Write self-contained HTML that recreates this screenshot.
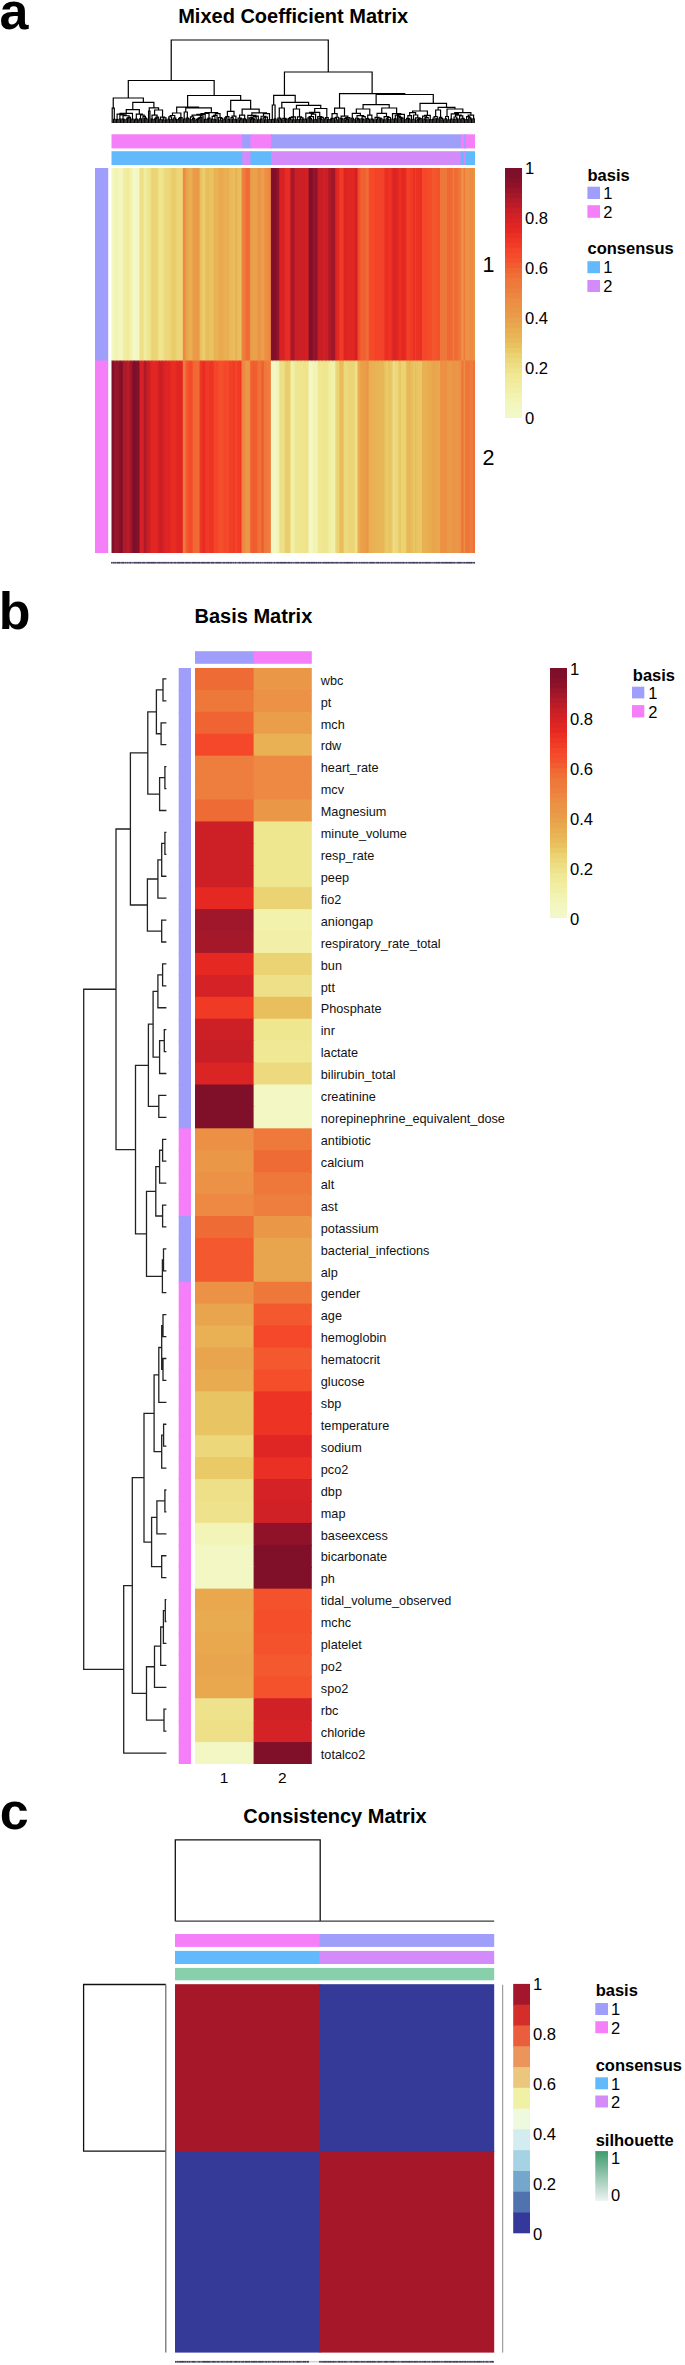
<!DOCTYPE html>
<html><head><meta charset="utf-8"><title>NMF figure</title>
<style>
html,body{margin:0;padding:0;background:#fff;}
body{width:685px;height:2365px;overflow:hidden;}
svg{display:block;font-family:"Liberation Sans", sans-serif;}
</style></head>
<body>
<svg width="685" height="2365" viewBox="0 0 685 2365">
<rect x="0" y="0" width="685" height="2365" fill="#ffffff"/>
<text x="-0.50" y="28.80" font-size="52" font-weight="bold" text-anchor="start" fill="#000" >a</text>
<text x="293.20" y="23.40" font-size="20" font-weight="bold" text-anchor="middle" fill="#000" >Mixed Coefficient Matrix</text>
<rect x="111.50" y="168.00" width="2.40" height="193.50" fill="#f3f7c4" />
<rect x="111.50" y="360.50" width="2.40" height="192.50" fill="#80102a" />
<rect x="112.90" y="168.00" width="2.40" height="193.50" fill="#f3f7c4" />
<rect x="112.90" y="360.50" width="2.40" height="192.50" fill="#80102a" />
<rect x="114.30" y="168.00" width="2.40" height="193.50" fill="#f2f2ae" />
<rect x="114.30" y="360.50" width="2.40" height="192.50" fill="#9d162a" />
<rect x="115.69" y="168.00" width="2.40" height="193.50" fill="#f2f4b5" />
<rect x="115.69" y="360.50" width="2.40" height="192.50" fill="#95132a" />
<rect x="117.09" y="168.00" width="2.40" height="193.50" fill="#f2f3af" />
<rect x="117.09" y="360.50" width="2.40" height="192.50" fill="#9c152a" />
<rect x="118.49" y="168.00" width="2.40" height="193.50" fill="#f3f6c0" />
<rect x="118.49" y="360.50" width="2.40" height="192.50" fill="#88112a" />
<rect x="119.89" y="168.00" width="2.40" height="193.50" fill="#f3f6c0" />
<rect x="119.89" y="360.50" width="2.40" height="192.50" fill="#88112a" />
<rect x="121.29" y="168.00" width="2.40" height="193.50" fill="#f3f8c8" />
<rect x="121.29" y="360.50" width="2.40" height="192.50" fill="#7d0f2a" />
<rect x="122.68" y="168.00" width="2.40" height="193.50" fill="#f1eea3" />
<rect x="122.68" y="360.50" width="2.40" height="192.50" fill="#af1a29" />
<rect x="124.08" y="168.00" width="2.40" height="193.50" fill="#f1eea3" />
<rect x="124.08" y="360.50" width="2.40" height="192.50" fill="#af1a29" />
<rect x="125.48" y="168.00" width="2.40" height="193.50" fill="#f1eea3" />
<rect x="125.48" y="360.50" width="2.40" height="192.50" fill="#af1a29" />
<rect x="126.88" y="168.00" width="2.40" height="193.50" fill="#f0eb9c" />
<rect x="126.88" y="360.50" width="2.40" height="192.50" fill="#ba1c28" />
<rect x="128.28" y="168.00" width="2.40" height="193.50" fill="#f0eb9c" />
<rect x="128.28" y="360.50" width="2.40" height="192.50" fill="#ba1c28" />
<rect x="129.68" y="168.00" width="2.40" height="193.50" fill="#f2f2ac" />
<rect x="129.68" y="360.50" width="2.40" height="192.50" fill="#a0162a" />
<rect x="131.07" y="168.00" width="2.40" height="193.50" fill="#f2f2ac" />
<rect x="131.07" y="360.50" width="2.40" height="192.50" fill="#a0162a" />
<rect x="132.47" y="168.00" width="2.40" height="193.50" fill="#f3f8c8" />
<rect x="132.47" y="360.50" width="2.40" height="192.50" fill="#7d0f2a" />
<rect x="133.87" y="168.00" width="2.40" height="193.50" fill="#f3f8c8" />
<rect x="133.87" y="360.50" width="2.40" height="192.50" fill="#7d0f2a" />
<rect x="135.27" y="168.00" width="2.40" height="193.50" fill="#f3f8c8" />
<rect x="135.27" y="360.50" width="2.40" height="192.50" fill="#7d0f2a" />
<rect x="136.67" y="168.00" width="2.40" height="193.50" fill="#f3f6bf" />
<rect x="136.67" y="360.50" width="2.40" height="192.50" fill="#89112a" />
<rect x="138.06" y="168.00" width="2.40" height="193.50" fill="#f3f7c3" />
<rect x="138.06" y="360.50" width="2.40" height="192.50" fill="#82102a" />
<rect x="139.46" y="168.00" width="2.40" height="193.50" fill="#eedf86" />
<rect x="139.46" y="360.50" width="2.40" height="192.50" fill="#d52226" />
<rect x="140.86" y="168.00" width="2.40" height="193.50" fill="#eedf86" />
<rect x="140.86" y="360.50" width="2.40" height="192.50" fill="#d52226" />
<rect x="142.26" y="168.00" width="2.40" height="193.50" fill="#eedf86" />
<rect x="142.26" y="360.50" width="2.40" height="192.50" fill="#d52226" />
<rect x="143.66" y="168.00" width="2.40" height="193.50" fill="#f1eea2" />
<rect x="143.66" y="360.50" width="2.40" height="192.50" fill="#af1a29" />
<rect x="145.05" y="168.00" width="2.40" height="193.50" fill="#f1eea2" />
<rect x="145.05" y="360.50" width="2.40" height="192.50" fill="#af1a29" />
<rect x="146.45" y="168.00" width="2.40" height="193.50" fill="#efe691" />
<rect x="146.45" y="360.50" width="2.40" height="192.50" fill="#cb1f26" />
<rect x="147.85" y="168.00" width="2.40" height="193.50" fill="#efe691" />
<rect x="147.85" y="360.50" width="2.40" height="192.50" fill="#cb1f26" />
<rect x="149.25" y="168.00" width="2.40" height="193.50" fill="#efe38c" />
<rect x="149.25" y="360.50" width="2.40" height="192.50" fill="#d02126" />
<rect x="150.65" y="168.00" width="2.40" height="193.50" fill="#ecd87b" />
<rect x="150.65" y="360.50" width="2.40" height="192.50" fill="#df2624" />
<rect x="152.04" y="168.00" width="2.40" height="193.50" fill="#ebd476" />
<rect x="152.04" y="360.50" width="2.40" height="192.50" fill="#e32723" />
<rect x="153.44" y="168.00" width="2.40" height="193.50" fill="#ebd476" />
<rect x="153.44" y="360.50" width="2.40" height="192.50" fill="#e32723" />
<rect x="154.84" y="168.00" width="2.40" height="193.50" fill="#ebd476" />
<rect x="154.84" y="360.50" width="2.40" height="192.50" fill="#e32723" />
<rect x="156.24" y="168.00" width="2.40" height="193.50" fill="#ebd475" />
<rect x="156.24" y="360.50" width="2.40" height="192.50" fill="#e32723" />
<rect x="157.64" y="168.00" width="2.40" height="193.50" fill="#eedf87" />
<rect x="157.64" y="360.50" width="2.40" height="192.50" fill="#d52226" />
<rect x="159.03" y="168.00" width="2.40" height="193.50" fill="#efe690" />
<rect x="159.03" y="360.50" width="2.40" height="192.50" fill="#cc1f26" />
<rect x="160.43" y="168.00" width="2.40" height="193.50" fill="#efe690" />
<rect x="160.43" y="360.50" width="2.40" height="192.50" fill="#cc1f26" />
<rect x="161.83" y="168.00" width="2.40" height="193.50" fill="#eee28b" />
<rect x="161.83" y="360.50" width="2.40" height="192.50" fill="#d12126" />
<rect x="163.23" y="168.00" width="2.40" height="193.50" fill="#eedf87" />
<rect x="163.23" y="360.50" width="2.40" height="192.50" fill="#d52226" />
<rect x="164.63" y="168.00" width="2.40" height="193.50" fill="#ecd779" />
<rect x="164.63" y="360.50" width="2.40" height="192.50" fill="#e02623" />
<rect x="166.03" y="168.00" width="2.40" height="193.50" fill="#ecd87b" />
<rect x="166.03" y="360.50" width="2.40" height="192.50" fill="#df2624" />
<rect x="167.42" y="168.00" width="2.40" height="193.50" fill="#ecd87b" />
<rect x="167.42" y="360.50" width="2.40" height="192.50" fill="#df2624" />
<rect x="168.82" y="168.00" width="2.40" height="193.50" fill="#ecd87b" />
<rect x="168.82" y="360.50" width="2.40" height="192.50" fill="#df2624" />
<rect x="170.22" y="168.00" width="2.40" height="193.50" fill="#ebd272" />
<rect x="170.22" y="360.50" width="2.40" height="192.50" fill="#e62822" />
<rect x="171.62" y="168.00" width="2.40" height="193.50" fill="#eacc6b" />
<rect x="171.62" y="360.50" width="2.40" height="192.50" fill="#e92d23" />
<rect x="173.02" y="168.00" width="2.40" height="193.50" fill="#eacc6b" />
<rect x="173.02" y="360.50" width="2.40" height="192.50" fill="#e92d23" />
<rect x="174.41" y="168.00" width="2.40" height="193.50" fill="#eacc6b" />
<rect x="174.41" y="360.50" width="2.40" height="192.50" fill="#e92d23" />
<rect x="175.81" y="168.00" width="2.40" height="193.50" fill="#ebd475" />
<rect x="175.81" y="360.50" width="2.40" height="192.50" fill="#e42722" />
<rect x="177.21" y="168.00" width="2.40" height="193.50" fill="#ecd679" />
<rect x="177.21" y="360.50" width="2.40" height="192.50" fill="#e02623" />
<rect x="178.61" y="168.00" width="2.40" height="193.50" fill="#ecd679" />
<rect x="178.61" y="360.50" width="2.40" height="192.50" fill="#e02623" />
<rect x="180.01" y="168.00" width="2.40" height="193.50" fill="#ecd679" />
<rect x="180.01" y="360.50" width="2.40" height="192.50" fill="#e02623" />
<rect x="181.40" y="168.00" width="2.40" height="193.50" fill="#ecd679" />
<rect x="181.40" y="360.50" width="2.40" height="192.50" fill="#e02623" />
<rect x="182.80" y="168.00" width="2.40" height="193.50" fill="#ed8b43" />
<rect x="182.80" y="360.50" width="2.40" height="192.50" fill="#ee7c3d" />
<rect x="184.20" y="168.00" width="2.40" height="193.50" fill="#ed8b43" />
<rect x="184.20" y="360.50" width="2.40" height="192.50" fill="#ee7c3d" />
<rect x="185.60" y="168.00" width="2.40" height="193.50" fill="#e9a34c" />
<rect x="185.60" y="360.50" width="2.40" height="192.50" fill="#f25a2f" />
<rect x="187.00" y="168.00" width="2.40" height="193.50" fill="#e9a34c" />
<rect x="187.00" y="360.50" width="2.40" height="192.50" fill="#f25a2f" />
<rect x="188.39" y="168.00" width="2.40" height="193.50" fill="#e9ae52" />
<rect x="188.39" y="360.50" width="2.40" height="192.50" fill="#f54a2b" />
<rect x="189.79" y="168.00" width="2.40" height="193.50" fill="#e9ae52" />
<rect x="189.79" y="360.50" width="2.40" height="192.50" fill="#f54a2b" />
<rect x="191.19" y="168.00" width="2.40" height="193.50" fill="#e9ae52" />
<rect x="191.19" y="360.50" width="2.40" height="192.50" fill="#f54a2b" />
<rect x="192.59" y="168.00" width="2.40" height="193.50" fill="#ea9b49" />
<rect x="192.59" y="360.50" width="2.40" height="192.50" fill="#f06834" />
<rect x="193.99" y="168.00" width="2.40" height="193.50" fill="#ea9b49" />
<rect x="193.99" y="360.50" width="2.40" height="192.50" fill="#f06834" />
<rect x="195.38" y="168.00" width="2.40" height="193.50" fill="#ea9b49" />
<rect x="195.38" y="360.50" width="2.40" height="192.50" fill="#f06834" />
<rect x="196.78" y="168.00" width="2.40" height="193.50" fill="#ea9848" />
<rect x="196.78" y="360.50" width="2.40" height="192.50" fill="#ef6c35" />
<rect x="198.18" y="168.00" width="2.40" height="193.50" fill="#ea9848" />
<rect x="198.18" y="360.50" width="2.40" height="192.50" fill="#ef6c35" />
<rect x="199.58" y="168.00" width="2.40" height="193.50" fill="#e9c05f" />
<rect x="199.58" y="360.50" width="2.40" height="192.50" fill="#ee3725" />
<rect x="200.98" y="168.00" width="2.40" height="193.50" fill="#e9c261" />
<rect x="200.98" y="360.50" width="2.40" height="192.50" fill="#ed3525" />
<rect x="202.38" y="168.00" width="2.40" height="193.50" fill="#eacd6c" />
<rect x="202.38" y="360.50" width="2.40" height="192.50" fill="#e82c23" />
<rect x="203.77" y="168.00" width="2.40" height="193.50" fill="#eacd6c" />
<rect x="203.77" y="360.50" width="2.40" height="192.50" fill="#e82c23" />
<rect x="205.17" y="168.00" width="2.40" height="193.50" fill="#e9bd5d" />
<rect x="205.17" y="360.50" width="2.40" height="192.50" fill="#f03a26" />
<rect x="206.57" y="168.00" width="2.40" height="193.50" fill="#e9bd5d" />
<rect x="206.57" y="360.50" width="2.40" height="192.50" fill="#f03a26" />
<rect x="207.97" y="168.00" width="2.40" height="193.50" fill="#e9bd5c" />
<rect x="207.97" y="360.50" width="2.40" height="192.50" fill="#f03b26" />
<rect x="209.37" y="168.00" width="2.40" height="193.50" fill="#e9c361" />
<rect x="209.37" y="360.50" width="2.40" height="192.50" fill="#ed3425" />
<rect x="210.76" y="168.00" width="2.40" height="193.50" fill="#e9c361" />
<rect x="210.76" y="360.50" width="2.40" height="192.50" fill="#ed3425" />
<rect x="212.16" y="168.00" width="2.40" height="193.50" fill="#e9c361" />
<rect x="212.16" y="360.50" width="2.40" height="192.50" fill="#ed3425" />
<rect x="213.56" y="168.00" width="2.40" height="193.50" fill="#e9b355" />
<rect x="213.56" y="360.50" width="2.40" height="192.50" fill="#f44529" />
<rect x="214.96" y="168.00" width="2.40" height="193.50" fill="#e9b355" />
<rect x="214.96" y="360.50" width="2.40" height="192.50" fill="#f44529" />
<rect x="216.36" y="168.00" width="2.40" height="193.50" fill="#e9b355" />
<rect x="216.36" y="360.50" width="2.40" height="192.50" fill="#f44529" />
<rect x="217.75" y="168.00" width="2.40" height="193.50" fill="#e9af52" />
<rect x="217.75" y="360.50" width="2.40" height="192.50" fill="#f5492a" />
<rect x="219.15" y="168.00" width="2.40" height="193.50" fill="#e9aa4f" />
<rect x="219.15" y="360.50" width="2.40" height="192.50" fill="#f4502c" />
<rect x="220.55" y="168.00" width="2.40" height="193.50" fill="#e9aa4f" />
<rect x="220.55" y="360.50" width="2.40" height="192.50" fill="#f4502c" />
<rect x="221.95" y="168.00" width="2.40" height="193.50" fill="#e9aa4f" />
<rect x="221.95" y="360.50" width="2.40" height="192.50" fill="#f4502c" />
<rect x="223.35" y="168.00" width="2.40" height="193.50" fill="#e9b053" />
<rect x="223.35" y="360.50" width="2.40" height="192.50" fill="#f5482a" />
<rect x="224.74" y="168.00" width="2.40" height="193.50" fill="#e9b053" />
<rect x="224.74" y="360.50" width="2.40" height="192.50" fill="#f5482a" />
<rect x="226.14" y="168.00" width="2.40" height="193.50" fill="#e9b053" />
<rect x="226.14" y="360.50" width="2.40" height="192.50" fill="#f5482a" />
<rect x="227.54" y="168.00" width="2.40" height="193.50" fill="#e9ad51" />
<rect x="227.54" y="360.50" width="2.40" height="192.50" fill="#f54c2b" />
<rect x="228.94" y="168.00" width="2.40" height="193.50" fill="#e9b959" />
<rect x="228.94" y="360.50" width="2.40" height="192.50" fill="#f23f27" />
<rect x="230.34" y="168.00" width="2.40" height="193.50" fill="#e9b959" />
<rect x="230.34" y="360.50" width="2.40" height="192.50" fill="#f23f27" />
<rect x="231.73" y="168.00" width="2.40" height="193.50" fill="#e9b959" />
<rect x="231.73" y="360.50" width="2.40" height="192.50" fill="#f23f27" />
<rect x="233.13" y="168.00" width="2.40" height="193.50" fill="#e9c160" />
<rect x="233.13" y="360.50" width="2.40" height="192.50" fill="#ee3625" />
<rect x="234.53" y="168.00" width="2.40" height="193.50" fill="#e9b355" />
<rect x="234.53" y="360.50" width="2.40" height="192.50" fill="#f44429" />
<rect x="235.93" y="168.00" width="2.40" height="193.50" fill="#e9b355" />
<rect x="235.93" y="360.50" width="2.40" height="192.50" fill="#f44429" />
<rect x="237.33" y="168.00" width="2.40" height="193.50" fill="#e9bd5c" />
<rect x="237.33" y="360.50" width="2.40" height="192.50" fill="#f03b26" />
<rect x="238.72" y="168.00" width="2.40" height="193.50" fill="#e9bd5c" />
<rect x="238.72" y="360.50" width="2.40" height="192.50" fill="#f03b26" />
<rect x="240.12" y="168.00" width="2.40" height="193.50" fill="#e9c15f" />
<rect x="240.12" y="360.50" width="2.40" height="192.50" fill="#ee3625" />
<rect x="241.52" y="168.00" width="2.40" height="193.50" fill="#ee803f" />
<rect x="241.52" y="360.50" width="2.40" height="192.50" fill="#ee8541" />
<rect x="242.92" y="168.00" width="2.40" height="193.50" fill="#ee803f" />
<rect x="242.92" y="360.50" width="2.40" height="192.50" fill="#ee8541" />
<rect x="244.32" y="168.00" width="2.40" height="193.50" fill="#ee773a" />
<rect x="244.32" y="360.50" width="2.40" height="192.50" fill="#ec9246" />
<rect x="245.72" y="168.00" width="2.40" height="193.50" fill="#ef6c36" />
<rect x="245.72" y="360.50" width="2.40" height="192.50" fill="#ea9748" />
<rect x="247.11" y="168.00" width="2.40" height="193.50" fill="#ef6c36" />
<rect x="247.11" y="360.50" width="2.40" height="192.50" fill="#ea9748" />
<rect x="248.51" y="168.00" width="2.40" height="193.50" fill="#ef6c36" />
<rect x="248.51" y="360.50" width="2.40" height="192.50" fill="#ea9748" />
<rect x="249.91" y="168.00" width="2.40" height="193.50" fill="#ea9747" />
<rect x="249.91" y="360.50" width="2.40" height="192.50" fill="#ef6e36" />
<rect x="251.31" y="168.00" width="2.40" height="193.50" fill="#e9a24c" />
<rect x="251.31" y="360.50" width="2.40" height="192.50" fill="#f15d30" />
<rect x="252.71" y="168.00" width="2.40" height="193.50" fill="#e9a24c" />
<rect x="252.71" y="360.50" width="2.40" height="192.50" fill="#f15d30" />
<rect x="254.10" y="168.00" width="2.40" height="193.50" fill="#e9a24c" />
<rect x="254.10" y="360.50" width="2.40" height="192.50" fill="#f15d30" />
<rect x="255.50" y="168.00" width="2.40" height="193.50" fill="#e9a24c" />
<rect x="255.50" y="360.50" width="2.40" height="192.50" fill="#f15d30" />
<rect x="256.90" y="168.00" width="2.40" height="193.50" fill="#ea9848" />
<rect x="256.90" y="360.50" width="2.40" height="192.50" fill="#ef6b35" />
<rect x="258.30" y="168.00" width="2.40" height="193.50" fill="#eb9447" />
<rect x="258.30" y="360.50" width="2.40" height="192.50" fill="#ee7338" />
<rect x="259.70" y="168.00" width="2.40" height="193.50" fill="#eb9447" />
<rect x="259.70" y="360.50" width="2.40" height="192.50" fill="#ee7338" />
<rect x="261.09" y="168.00" width="2.40" height="193.50" fill="#eaa04b" />
<rect x="261.09" y="360.50" width="2.40" height="192.50" fill="#f16131" />
<rect x="262.49" y="168.00" width="2.40" height="193.50" fill="#eaa04b" />
<rect x="262.49" y="360.50" width="2.40" height="192.50" fill="#f16131" />
<rect x="263.89" y="168.00" width="2.40" height="193.50" fill="#ec9145" />
<rect x="263.89" y="360.50" width="2.40" height="192.50" fill="#ee783b" />
<rect x="265.29" y="168.00" width="2.40" height="193.50" fill="#ec9145" />
<rect x="265.29" y="360.50" width="2.40" height="192.50" fill="#ee783b" />
<rect x="266.69" y="168.00" width="2.40" height="193.50" fill="#ed8c43" />
<rect x="266.69" y="360.50" width="2.40" height="192.50" fill="#ee7c3d" />
<rect x="268.08" y="168.00" width="2.40" height="193.50" fill="#ed8943" />
<rect x="268.08" y="360.50" width="2.40" height="192.50" fill="#ee7e3e" />
<rect x="269.48" y="168.00" width="2.40" height="193.50" fill="#ed8943" />
<rect x="269.48" y="360.50" width="2.40" height="192.50" fill="#ee7e3e" />
<rect x="270.88" y="168.00" width="2.40" height="193.50" fill="#83102a" />
<rect x="270.88" y="360.50" width="2.40" height="192.50" fill="#f3f7c3" />
<rect x="272.28" y="168.00" width="2.40" height="193.50" fill="#83102a" />
<rect x="272.28" y="360.50" width="2.40" height="192.50" fill="#f3f7c3" />
<rect x="273.68" y="168.00" width="2.40" height="193.50" fill="#83102a" />
<rect x="273.68" y="360.50" width="2.40" height="192.50" fill="#f3f7c2" />
<rect x="275.07" y="168.00" width="2.40" height="193.50" fill="#83102a" />
<rect x="275.07" y="360.50" width="2.40" height="192.50" fill="#f3f7c2" />
<rect x="276.47" y="168.00" width="2.40" height="193.50" fill="#94132a" />
<rect x="276.47" y="360.50" width="2.40" height="192.50" fill="#f2f4b5" />
<rect x="277.87" y="168.00" width="2.40" height="193.50" fill="#94132a" />
<rect x="277.87" y="360.50" width="2.40" height="192.50" fill="#f2f4b5" />
<rect x="279.27" y="168.00" width="2.40" height="193.50" fill="#d62326" />
<rect x="279.27" y="360.50" width="2.40" height="192.50" fill="#eede86" />
<rect x="280.67" y="168.00" width="2.40" height="193.50" fill="#d62326" />
<rect x="280.67" y="360.50" width="2.40" height="192.50" fill="#eede86" />
<rect x="282.07" y="168.00" width="2.40" height="193.50" fill="#d62326" />
<rect x="282.07" y="360.50" width="2.40" height="192.50" fill="#eede86" />
<rect x="283.46" y="168.00" width="2.40" height="193.50" fill="#d62326" />
<rect x="283.46" y="360.50" width="2.40" height="192.50" fill="#eede86" />
<rect x="284.86" y="168.00" width="2.40" height="193.50" fill="#e82c23" />
<rect x="284.86" y="360.50" width="2.40" height="192.50" fill="#eacd6c" />
<rect x="286.26" y="168.00" width="2.40" height="193.50" fill="#e82c23" />
<rect x="286.26" y="360.50" width="2.40" height="192.50" fill="#eacd6c" />
<rect x="287.66" y="168.00" width="2.40" height="193.50" fill="#e82c23" />
<rect x="287.66" y="360.50" width="2.40" height="192.50" fill="#eacd6c" />
<rect x="289.06" y="168.00" width="2.40" height="193.50" fill="#e82c23" />
<rect x="289.06" y="360.50" width="2.40" height="192.50" fill="#eacd6c" />
<rect x="290.45" y="168.00" width="2.40" height="193.50" fill="#a8182a" />
<rect x="290.45" y="360.50" width="2.40" height="192.50" fill="#f1f0a7" />
<rect x="291.85" y="168.00" width="2.40" height="193.50" fill="#a8182a" />
<rect x="291.85" y="360.50" width="2.40" height="192.50" fill="#f1f0a7" />
<rect x="293.25" y="168.00" width="2.40" height="193.50" fill="#a8182a" />
<rect x="293.25" y="360.50" width="2.40" height="192.50" fill="#f1f0a7" />
<rect x="294.65" y="168.00" width="2.40" height="193.50" fill="#cc1f26" />
<rect x="294.65" y="360.50" width="2.40" height="192.50" fill="#efe690" />
<rect x="296.05" y="168.00" width="2.40" height="193.50" fill="#cc1f26" />
<rect x="296.05" y="360.50" width="2.40" height="192.50" fill="#efe690" />
<rect x="297.44" y="168.00" width="2.40" height="193.50" fill="#cc1f26" />
<rect x="297.44" y="360.50" width="2.40" height="192.50" fill="#efe690" />
<rect x="298.84" y="168.00" width="2.40" height="193.50" fill="#cc1f26" />
<rect x="298.84" y="360.50" width="2.40" height="192.50" fill="#efe690" />
<rect x="300.24" y="168.00" width="2.40" height="193.50" fill="#cd2026" />
<rect x="300.24" y="360.50" width="2.40" height="192.50" fill="#efe58f" />
<rect x="301.64" y="168.00" width="2.40" height="193.50" fill="#cd2026" />
<rect x="301.64" y="360.50" width="2.40" height="192.50" fill="#efe58f" />
<rect x="303.04" y="168.00" width="2.40" height="193.50" fill="#cd2026" />
<rect x="303.04" y="360.50" width="2.40" height="192.50" fill="#efe58f" />
<rect x="304.43" y="168.00" width="2.40" height="193.50" fill="#d02126" />
<rect x="304.43" y="360.50" width="2.40" height="192.50" fill="#efe38c" />
<rect x="305.83" y="168.00" width="2.40" height="193.50" fill="#d02126" />
<rect x="305.83" y="360.50" width="2.40" height="192.50" fill="#efe38c" />
<rect x="307.23" y="168.00" width="2.40" height="193.50" fill="#d02126" />
<rect x="307.23" y="360.50" width="2.40" height="192.50" fill="#efe38c" />
<rect x="308.63" y="168.00" width="2.40" height="193.50" fill="#80102a" />
<rect x="308.63" y="360.50" width="2.40" height="192.50" fill="#f3f7c4" />
<rect x="310.03" y="168.00" width="2.40" height="193.50" fill="#80102a" />
<rect x="310.03" y="360.50" width="2.40" height="192.50" fill="#f3f7c4" />
<rect x="311.42" y="168.00" width="2.40" height="193.50" fill="#80102a" />
<rect x="311.42" y="360.50" width="2.40" height="192.50" fill="#f3f7c4" />
<rect x="312.82" y="168.00" width="2.40" height="193.50" fill="#9b152a" />
<rect x="312.82" y="360.50" width="2.40" height="192.50" fill="#f2f3b0" />
<rect x="314.22" y="168.00" width="2.40" height="193.50" fill="#94132a" />
<rect x="314.22" y="360.50" width="2.40" height="192.50" fill="#f2f4b5" />
<rect x="315.62" y="168.00" width="2.40" height="193.50" fill="#94132a" />
<rect x="315.62" y="360.50" width="2.40" height="192.50" fill="#f2f4b5" />
<rect x="317.02" y="168.00" width="2.40" height="193.50" fill="#ab1929" />
<rect x="317.02" y="360.50" width="2.40" height="192.50" fill="#f1efa5" />
<rect x="318.42" y="168.00" width="2.40" height="193.50" fill="#cc1f26" />
<rect x="318.42" y="360.50" width="2.40" height="192.50" fill="#efe690" />
<rect x="319.81" y="168.00" width="2.40" height="193.50" fill="#c91e26" />
<rect x="319.81" y="360.50" width="2.40" height="192.50" fill="#efe792" />
<rect x="321.21" y="168.00" width="2.40" height="193.50" fill="#c91e26" />
<rect x="321.21" y="360.50" width="2.40" height="192.50" fill="#efe792" />
<rect x="322.61" y="168.00" width="2.40" height="193.50" fill="#ce2026" />
<rect x="322.61" y="360.50" width="2.40" height="192.50" fill="#efe58e" />
<rect x="324.01" y="168.00" width="2.40" height="193.50" fill="#ce2026" />
<rect x="324.01" y="360.50" width="2.40" height="192.50" fill="#efe58e" />
<rect x="325.41" y="168.00" width="2.40" height="193.50" fill="#c91e26" />
<rect x="325.41" y="360.50" width="2.40" height="192.50" fill="#efe793" />
<rect x="326.80" y="168.00" width="2.40" height="193.50" fill="#cb1f26" />
<rect x="326.80" y="360.50" width="2.40" height="192.50" fill="#efe691" />
<rect x="328.20" y="168.00" width="2.40" height="193.50" fill="#af1a29" />
<rect x="328.20" y="360.50" width="2.40" height="192.50" fill="#f1eea2" />
<rect x="329.60" y="168.00" width="2.40" height="193.50" fill="#af1a29" />
<rect x="329.60" y="360.50" width="2.40" height="192.50" fill="#f1eea2" />
<rect x="331.00" y="168.00" width="2.40" height="193.50" fill="#a2172a" />
<rect x="331.00" y="360.50" width="2.40" height="192.50" fill="#f2f1aa" />
<rect x="332.40" y="168.00" width="2.40" height="193.50" fill="#a2172a" />
<rect x="332.40" y="360.50" width="2.40" height="192.50" fill="#f2f1aa" />
<rect x="333.79" y="168.00" width="2.40" height="193.50" fill="#a2172a" />
<rect x="333.79" y="360.50" width="2.40" height="192.50" fill="#f2f1aa" />
<rect x="335.19" y="168.00" width="2.40" height="193.50" fill="#da2425" />
<rect x="335.19" y="360.50" width="2.40" height="192.50" fill="#eddb80" />
<rect x="336.59" y="168.00" width="2.40" height="193.50" fill="#e32723" />
<rect x="336.59" y="360.50" width="2.40" height="192.50" fill="#ebd475" />
<rect x="337.99" y="168.00" width="2.40" height="193.50" fill="#e32723" />
<rect x="337.99" y="360.50" width="2.40" height="192.50" fill="#ebd475" />
<rect x="339.39" y="168.00" width="2.40" height="193.50" fill="#f03b26" />
<rect x="339.39" y="360.50" width="2.40" height="192.50" fill="#e9bd5c" />
<rect x="340.78" y="168.00" width="2.40" height="193.50" fill="#f03b26" />
<rect x="340.78" y="360.50" width="2.40" height="192.50" fill="#e9bd5c" />
<rect x="342.18" y="168.00" width="2.40" height="193.50" fill="#f13c27" />
<rect x="342.18" y="360.50" width="2.40" height="192.50" fill="#e9bc5b" />
<rect x="343.58" y="168.00" width="2.40" height="193.50" fill="#dd2524" />
<rect x="343.58" y="360.50" width="2.40" height="192.50" fill="#ecd97d" />
<rect x="344.98" y="168.00" width="2.40" height="193.50" fill="#dd2524" />
<rect x="344.98" y="360.50" width="2.40" height="192.50" fill="#ecd97d" />
<rect x="346.38" y="168.00" width="2.40" height="193.50" fill="#dd2524" />
<rect x="346.38" y="360.50" width="2.40" height="192.50" fill="#ecd97d" />
<rect x="347.77" y="168.00" width="2.40" height="193.50" fill="#e22723" />
<rect x="347.77" y="360.50" width="2.40" height="192.50" fill="#ecd576" />
<rect x="349.17" y="168.00" width="2.40" height="193.50" fill="#e22723" />
<rect x="349.17" y="360.50" width="2.40" height="192.50" fill="#ecd576" />
<rect x="350.57" y="168.00" width="2.40" height="193.50" fill="#e22723" />
<rect x="350.57" y="360.50" width="2.40" height="192.50" fill="#ecd576" />
<rect x="351.97" y="168.00" width="2.40" height="193.50" fill="#e22723" />
<rect x="351.97" y="360.50" width="2.40" height="192.50" fill="#ecd576" />
<rect x="353.37" y="168.00" width="2.40" height="193.50" fill="#e32723" />
<rect x="353.37" y="360.50" width="2.40" height="192.50" fill="#ebd476" />
<rect x="354.77" y="168.00" width="2.40" height="193.50" fill="#d22126" />
<rect x="354.77" y="360.50" width="2.40" height="192.50" fill="#eee18a" />
<rect x="356.16" y="168.00" width="2.40" height="193.50" fill="#d22126" />
<rect x="356.16" y="360.50" width="2.40" height="192.50" fill="#eee18a" />
<rect x="357.56" y="168.00" width="2.40" height="193.50" fill="#f44d2b" />
<rect x="357.56" y="360.50" width="2.40" height="192.50" fill="#e9ac50" />
<rect x="358.96" y="168.00" width="2.40" height="193.50" fill="#f44d2b" />
<rect x="358.96" y="360.50" width="2.40" height="192.50" fill="#e9ac50" />
<rect x="360.36" y="168.00" width="2.40" height="193.50" fill="#f06131" />
<rect x="360.36" y="360.50" width="2.40" height="192.50" fill="#ea9f4b" />
<rect x="361.76" y="168.00" width="2.40" height="193.50" fill="#f06131" />
<rect x="361.76" y="360.50" width="2.40" height="192.50" fill="#ea9f4b" />
<rect x="363.15" y="168.00" width="2.40" height="193.50" fill="#f06131" />
<rect x="363.15" y="360.50" width="2.40" height="192.50" fill="#ea9f4b" />
<rect x="364.55" y="168.00" width="2.40" height="193.50" fill="#f16031" />
<rect x="364.55" y="360.50" width="2.40" height="192.50" fill="#e9a04b" />
<rect x="365.95" y="168.00" width="2.40" height="193.50" fill="#ef6d36" />
<rect x="365.95" y="360.50" width="2.40" height="192.50" fill="#ea9748" />
<rect x="367.35" y="168.00" width="2.40" height="193.50" fill="#ef6d36" />
<rect x="367.35" y="360.50" width="2.40" height="192.50" fill="#ea9748" />
<rect x="368.75" y="168.00" width="2.40" height="193.50" fill="#f54a2b" />
<rect x="368.75" y="360.50" width="2.40" height="192.50" fill="#e9af52" />
<rect x="370.14" y="168.00" width="2.40" height="193.50" fill="#f54a2b" />
<rect x="370.14" y="360.50" width="2.40" height="192.50" fill="#e9af52" />
<rect x="371.54" y="168.00" width="2.40" height="193.50" fill="#f54a2b" />
<rect x="371.54" y="360.50" width="2.40" height="192.50" fill="#e9af52" />
<rect x="372.94" y="168.00" width="2.40" height="193.50" fill="#f5492a" />
<rect x="372.94" y="360.50" width="2.40" height="192.50" fill="#e9b052" />
<rect x="374.34" y="168.00" width="2.40" height="193.50" fill="#f44429" />
<rect x="374.34" y="360.50" width="2.40" height="192.50" fill="#e9b455" />
<rect x="375.74" y="168.00" width="2.40" height="193.50" fill="#f44429" />
<rect x="375.74" y="360.50" width="2.40" height="192.50" fill="#e9b455" />
<rect x="377.13" y="168.00" width="2.40" height="193.50" fill="#f44429" />
<rect x="377.13" y="360.50" width="2.40" height="192.50" fill="#e9b455" />
<rect x="378.53" y="168.00" width="2.40" height="193.50" fill="#f44429" />
<rect x="378.53" y="360.50" width="2.40" height="192.50" fill="#e9b455" />
<rect x="379.93" y="168.00" width="2.40" height="193.50" fill="#f34329" />
<rect x="379.93" y="360.50" width="2.40" height="192.50" fill="#e9b556" />
<rect x="381.33" y="168.00" width="2.40" height="193.50" fill="#f34329" />
<rect x="381.33" y="360.50" width="2.40" height="192.50" fill="#e9b556" />
<rect x="382.73" y="168.00" width="2.40" height="193.50" fill="#f34329" />
<rect x="382.73" y="360.50" width="2.40" height="192.50" fill="#e9b556" />
<rect x="384.12" y="168.00" width="2.40" height="193.50" fill="#ed3525" />
<rect x="384.12" y="360.50" width="2.40" height="192.50" fill="#e9c260" />
<rect x="385.52" y="168.00" width="2.40" height="193.50" fill="#e92e23" />
<rect x="385.52" y="360.50" width="2.40" height="192.50" fill="#eaca69" />
<rect x="386.92" y="168.00" width="2.40" height="193.50" fill="#e92e23" />
<rect x="386.92" y="360.50" width="2.40" height="192.50" fill="#eaca69" />
<rect x="388.32" y="168.00" width="2.40" height="193.50" fill="#ee3725" />
<rect x="388.32" y="360.50" width="2.40" height="192.50" fill="#e9c05f" />
<rect x="389.72" y="168.00" width="2.40" height="193.50" fill="#eb3024" />
<rect x="389.72" y="360.50" width="2.40" height="192.50" fill="#e9c766" />
<rect x="391.12" y="168.00" width="2.40" height="193.50" fill="#eb3024" />
<rect x="391.12" y="360.50" width="2.40" height="192.50" fill="#e9c766" />
<rect x="392.51" y="168.00" width="2.40" height="193.50" fill="#d92425" />
<rect x="392.51" y="360.50" width="2.40" height="192.50" fill="#eddc82" />
<rect x="393.91" y="168.00" width="2.40" height="193.50" fill="#d92425" />
<rect x="393.91" y="360.50" width="2.40" height="192.50" fill="#eddc82" />
<rect x="395.31" y="168.00" width="2.40" height="193.50" fill="#df2624" />
<rect x="395.31" y="360.50" width="2.40" height="192.50" fill="#ecd77a" />
<rect x="396.71" y="168.00" width="2.40" height="193.50" fill="#df2624" />
<rect x="396.71" y="360.50" width="2.40" height="192.50" fill="#ecd77a" />
<rect x="398.11" y="168.00" width="2.40" height="193.50" fill="#e82c23" />
<rect x="398.11" y="360.50" width="2.40" height="192.50" fill="#eacd6c" />
<rect x="399.50" y="168.00" width="2.40" height="193.50" fill="#ec3324" />
<rect x="399.50" y="360.50" width="2.40" height="192.50" fill="#e9c462" />
<rect x="400.90" y="168.00" width="2.40" height="193.50" fill="#e52822" />
<rect x="400.90" y="360.50" width="2.40" height="192.50" fill="#ebd373" />
<rect x="402.30" y="168.00" width="2.40" height="193.50" fill="#e52822" />
<rect x="402.30" y="360.50" width="2.40" height="192.50" fill="#ebd373" />
<rect x="403.70" y="168.00" width="2.40" height="193.50" fill="#e52822" />
<rect x="403.70" y="360.50" width="2.40" height="192.50" fill="#ebd373" />
<rect x="405.10" y="168.00" width="2.40" height="193.50" fill="#e82c23" />
<rect x="405.10" y="360.50" width="2.40" height="192.50" fill="#eacd6c" />
<rect x="406.49" y="168.00" width="2.40" height="193.50" fill="#f34128" />
<rect x="406.49" y="360.50" width="2.40" height="192.50" fill="#e9b757" />
<rect x="407.89" y="168.00" width="2.40" height="193.50" fill="#f24028" />
<rect x="407.89" y="360.50" width="2.40" height="192.50" fill="#e9b758" />
<rect x="409.29" y="168.00" width="2.40" height="193.50" fill="#f24028" />
<rect x="409.29" y="360.50" width="2.40" height="192.50" fill="#e9b758" />
<rect x="410.69" y="168.00" width="2.40" height="193.50" fill="#ef3926" />
<rect x="410.69" y="360.50" width="2.40" height="192.50" fill="#e9be5d" />
<rect x="412.09" y="168.00" width="2.40" height="193.50" fill="#ef3926" />
<rect x="412.09" y="360.50" width="2.40" height="192.50" fill="#e9be5d" />
<rect x="413.48" y="168.00" width="2.40" height="193.50" fill="#e92e23" />
<rect x="413.48" y="360.50" width="2.40" height="192.50" fill="#eaca69" />
<rect x="414.88" y="168.00" width="2.40" height="193.50" fill="#f13c27" />
<rect x="414.88" y="360.50" width="2.40" height="192.50" fill="#e9bb5b" />
<rect x="416.28" y="168.00" width="2.40" height="193.50" fill="#eb3224" />
<rect x="416.28" y="360.50" width="2.40" height="192.50" fill="#e9c564" />
<rect x="417.68" y="168.00" width="2.40" height="193.50" fill="#eb3224" />
<rect x="417.68" y="360.50" width="2.40" height="192.50" fill="#e9c564" />
<rect x="419.08" y="168.00" width="2.40" height="193.50" fill="#eb3224" />
<rect x="419.08" y="360.50" width="2.40" height="192.50" fill="#e9c564" />
<rect x="420.47" y="168.00" width="2.40" height="193.50" fill="#e92e23" />
<rect x="420.47" y="360.50" width="2.40" height="192.50" fill="#eaca69" />
<rect x="421.87" y="168.00" width="2.40" height="193.50" fill="#f5472a" />
<rect x="421.87" y="360.50" width="2.40" height="192.50" fill="#e9b153" />
<rect x="423.27" y="168.00" width="2.40" height="193.50" fill="#f5472a" />
<rect x="423.27" y="360.50" width="2.40" height="192.50" fill="#e9b153" />
<rect x="424.67" y="168.00" width="2.40" height="193.50" fill="#f5472a" />
<rect x="424.67" y="360.50" width="2.40" height="192.50" fill="#e9b153" />
<rect x="426.07" y="168.00" width="2.40" height="193.50" fill="#f54a2b" />
<rect x="426.07" y="360.50" width="2.40" height="192.50" fill="#e9ae52" />
<rect x="427.47" y="168.00" width="2.40" height="193.50" fill="#f54a2b" />
<rect x="427.47" y="360.50" width="2.40" height="192.50" fill="#e9ae52" />
<rect x="428.86" y="168.00" width="2.40" height="193.50" fill="#f44d2b" />
<rect x="428.86" y="360.50" width="2.40" height="192.50" fill="#e9ac50" />
<rect x="430.26" y="168.00" width="2.40" height="193.50" fill="#f44d2b" />
<rect x="430.26" y="360.50" width="2.40" height="192.50" fill="#e9ac50" />
<rect x="431.66" y="168.00" width="2.40" height="193.50" fill="#f3572e" />
<rect x="431.66" y="360.50" width="2.40" height="192.50" fill="#e9a54d" />
<rect x="433.06" y="168.00" width="2.40" height="193.50" fill="#f3572e" />
<rect x="433.06" y="360.50" width="2.40" height="192.50" fill="#e9a54d" />
<rect x="434.46" y="168.00" width="2.40" height="193.50" fill="#f3572e" />
<rect x="434.46" y="360.50" width="2.40" height="192.50" fill="#e9a54d" />
<rect x="435.85" y="168.00" width="2.40" height="193.50" fill="#f4542d" />
<rect x="435.85" y="360.50" width="2.40" height="192.50" fill="#e9a74e" />
<rect x="437.25" y="168.00" width="2.40" height="193.50" fill="#f4542d" />
<rect x="437.25" y="360.50" width="2.40" height="192.50" fill="#e9a74e" />
<rect x="438.65" y="168.00" width="2.40" height="193.50" fill="#f4502c" />
<rect x="438.65" y="360.50" width="2.40" height="192.50" fill="#e9aa4f" />
<rect x="440.05" y="168.00" width="2.40" height="193.50" fill="#ee783b" />
<rect x="440.05" y="360.50" width="2.40" height="192.50" fill="#ec9145" />
<rect x="441.45" y="168.00" width="2.40" height="193.50" fill="#ee783b" />
<rect x="441.45" y="360.50" width="2.40" height="192.50" fill="#ec9145" />
<rect x="442.84" y="168.00" width="2.40" height="193.50" fill="#ee783b" />
<rect x="442.84" y="360.50" width="2.40" height="192.50" fill="#ec9145" />
<rect x="444.24" y="168.00" width="2.40" height="193.50" fill="#ee793b" />
<rect x="444.24" y="360.50" width="2.40" height="192.50" fill="#ec9045" />
<rect x="445.64" y="168.00" width="2.40" height="193.50" fill="#ee793b" />
<rect x="445.64" y="360.50" width="2.40" height="192.50" fill="#ec9045" />
<rect x="447.04" y="168.00" width="2.40" height="193.50" fill="#ef6934" />
<rect x="447.04" y="360.50" width="2.40" height="192.50" fill="#ea9a49" />
<rect x="448.44" y="168.00" width="2.40" height="193.50" fill="#ef6934" />
<rect x="448.44" y="360.50" width="2.40" height="192.50" fill="#ea9a49" />
<rect x="449.83" y="168.00" width="2.40" height="193.50" fill="#ef6934" />
<rect x="449.83" y="360.50" width="2.40" height="192.50" fill="#ea9a49" />
<rect x="451.23" y="168.00" width="2.40" height="193.50" fill="#ef6934" />
<rect x="451.23" y="360.50" width="2.40" height="192.50" fill="#ea9a49" />
<rect x="452.63" y="168.00" width="2.40" height="193.50" fill="#ee793b" />
<rect x="452.63" y="360.50" width="2.40" height="192.50" fill="#ec9145" />
<rect x="454.03" y="168.00" width="2.40" height="193.50" fill="#ef6d36" />
<rect x="454.03" y="360.50" width="2.40" height="192.50" fill="#ea9748" />
<rect x="455.43" y="168.00" width="2.40" height="193.50" fill="#ef6d36" />
<rect x="455.43" y="360.50" width="2.40" height="192.50" fill="#ea9748" />
<rect x="456.82" y="168.00" width="2.40" height="193.50" fill="#ef6d36" />
<rect x="456.82" y="360.50" width="2.40" height="192.50" fill="#ea9748" />
<rect x="458.22" y="168.00" width="2.40" height="193.50" fill="#ee773a" />
<rect x="458.22" y="360.50" width="2.40" height="192.50" fill="#ec9246" />
<rect x="459.62" y="168.00" width="2.40" height="193.50" fill="#ee773a" />
<rect x="459.62" y="360.50" width="2.40" height="192.50" fill="#ec9246" />
<rect x="461.02" y="168.00" width="2.40" height="193.50" fill="#ec9045" />
<rect x="461.02" y="360.50" width="2.40" height="192.50" fill="#ee793b" />
<rect x="462.42" y="168.00" width="2.40" height="193.50" fill="#ec9045" />
<rect x="462.42" y="360.50" width="2.40" height="192.50" fill="#ee793b" />
<rect x="463.82" y="168.00" width="2.40" height="193.50" fill="#ee7b3c" />
<rect x="463.82" y="360.50" width="2.40" height="192.50" fill="#ed8c44" />
<rect x="465.21" y="168.00" width="2.40" height="193.50" fill="#eb9346" />
<rect x="465.21" y="360.50" width="2.40" height="192.50" fill="#ee763a" />
<rect x="466.61" y="168.00" width="2.40" height="193.50" fill="#eb9346" />
<rect x="466.61" y="360.50" width="2.40" height="192.50" fill="#ee763a" />
<rect x="468.01" y="168.00" width="2.40" height="193.50" fill="#eb9346" />
<rect x="468.01" y="360.50" width="2.40" height="192.50" fill="#ee763a" />
<rect x="469.41" y="168.00" width="2.40" height="193.50" fill="#ed8c43" />
<rect x="469.41" y="360.50" width="2.40" height="192.50" fill="#ee7c3d" />
<rect x="470.81" y="168.00" width="2.40" height="193.50" fill="#ed8c43" />
<rect x="470.81" y="360.50" width="2.40" height="192.50" fill="#ee7c3d" />
<rect x="472.20" y="168.00" width="2.40" height="193.50" fill="#ed8c43" />
<rect x="472.20" y="360.50" width="2.40" height="192.50" fill="#ee7c3d" />
<rect x="473.60" y="168.00" width="1.40" height="193.50" fill="#ea9647" />
<rect x="473.60" y="360.50" width="1.40" height="192.50" fill="#ef6f37" />
<rect x="111.50" y="134.30" width="131.70" height="14.10" fill="#f57ff9" />
<rect x="242.20" y="134.30" width="9.30" height="14.10" fill="#9f9efb" />
<rect x="250.50" y="134.30" width="21.50" height="14.10" fill="#f57ff9" />
<rect x="271.00" y="134.30" width="190.80" height="14.10" fill="#9f9efb" />
<rect x="460.80" y="134.30" width="4.00" height="14.10" fill="#f57ff9" />
<rect x="463.80" y="134.30" width="2.60" height="14.10" fill="#9f9efb" />
<rect x="465.40" y="134.30" width="9.60" height="14.10" fill="#f57ff9" />
<rect x="111.50" y="151.20" width="131.70" height="13.80" fill="#62b9fb" />
<rect x="242.20" y="151.20" width="9.30" height="13.80" fill="#d28bf8" />
<rect x="250.50" y="151.20" width="21.50" height="13.80" fill="#62b9fb" />
<rect x="271.00" y="151.20" width="190.80" height="13.80" fill="#d28bf8" />
<rect x="460.80" y="151.20" width="4.00" height="13.80" fill="#62b9fb" />
<rect x="463.80" y="151.20" width="2.60" height="13.80" fill="#d28bf8" />
<rect x="465.40" y="151.20" width="9.60" height="13.80" fill="#62b9fb" />
<rect x="95.00" y="168.00" width="13.20" height="193.50" fill="#9f9efb" />
<rect x="95.00" y="360.50" width="13.20" height="192.50" fill="#f57ff9" />
<rect x="111.00" y="561.90" width="1.00" height="1.70" fill="#4a4a66" />
<rect x="112.00" y="561.90" width="1.00" height="1.70" fill="#6e6a84" />
<rect x="113.00" y="561.90" width="1.00" height="1.70" fill="#4a4a66" />
<rect x="114.00" y="561.90" width="1.00" height="1.70" fill="#5a5470" />
<rect x="115.00" y="561.90" width="1.00" height="1.70" fill="#4a4a66" />
<rect x="116.00" y="561.90" width="1.00" height="1.70" fill="#6e6a84" />
<rect x="117.00" y="561.90" width="1.00" height="1.70" fill="#44405e" />
<rect x="118.00" y="561.90" width="1.00" height="1.70" fill="#44405e" />
<rect x="119.00" y="561.90" width="1.00" height="1.70" fill="#3c3c58" />
<rect x="120.00" y="561.90" width="1.00" height="1.70" fill="#6e6a84" />
<rect x="121.00" y="561.90" width="1.00" height="1.70" fill="#5a5470" />
<rect x="122.00" y="561.90" width="1.00" height="1.70" fill="#3c3c58" />
<rect x="123.00" y="561.90" width="1.00" height="1.70" fill="#3c3c58" />
<rect x="124.00" y="561.90" width="1.00" height="1.70" fill="#6e6a84" />
<rect x="125.00" y="561.90" width="1.00" height="1.70" fill="#4a4a66" />
<rect x="126.00" y="561.90" width="1.00" height="1.70" fill="#6e6a84" />
<rect x="127.00" y="561.90" width="1.00" height="1.70" fill="#4a4a66" />
<rect x="128.00" y="561.90" width="1.00" height="1.70" fill="#6e6a84" />
<rect x="129.00" y="561.90" width="1.00" height="1.70" fill="#5a5470" />
<rect x="130.00" y="561.90" width="1.00" height="1.70" fill="#3c3c58" />
<rect x="131.00" y="561.90" width="1.00" height="1.70" fill="#6e6a84" />
<rect x="132.00" y="561.90" width="1.00" height="1.70" fill="#6e6a84" />
<rect x="133.00" y="561.90" width="1.00" height="1.70" fill="#6e6a84" />
<rect x="134.00" y="561.90" width="1.00" height="1.70" fill="#3c3c58" />
<rect x="135.00" y="561.90" width="1.00" height="1.70" fill="#4a4a66" />
<rect x="136.00" y="561.90" width="1.00" height="1.70" fill="#4a4a66" />
<rect x="137.00" y="561.90" width="1.00" height="1.70" fill="#4a4a66" />
<rect x="138.00" y="561.90" width="1.00" height="1.70" fill="#3c3c58" />
<rect x="139.00" y="561.90" width="1.00" height="1.70" fill="#4a4a66" />
<rect x="140.00" y="561.90" width="1.00" height="1.70" fill="#44405e" />
<rect x="141.00" y="561.90" width="1.00" height="1.70" fill="#6e6a84" />
<rect x="142.00" y="561.90" width="1.00" height="1.70" fill="#4a4a66" />
<rect x="143.00" y="561.90" width="1.00" height="1.70" fill="#44405e" />
<rect x="144.00" y="561.90" width="1.00" height="1.70" fill="#44405e" />
<rect x="145.00" y="561.90" width="1.00" height="1.70" fill="#6e6a84" />
<rect x="146.00" y="561.90" width="1.00" height="1.70" fill="#5a5470" />
<rect x="147.00" y="561.90" width="1.00" height="1.70" fill="#4a4a66" />
<rect x="148.00" y="561.90" width="1.00" height="1.70" fill="#44405e" />
<rect x="149.00" y="561.90" width="1.00" height="1.70" fill="#44405e" />
<rect x="150.00" y="561.90" width="1.00" height="1.70" fill="#4a4a66" />
<rect x="151.00" y="561.90" width="1.00" height="1.70" fill="#3c3c58" />
<rect x="152.00" y="561.90" width="1.00" height="1.70" fill="#3c3c58" />
<rect x="153.00" y="561.90" width="1.00" height="1.70" fill="#3c3c58" />
<rect x="154.00" y="561.90" width="1.00" height="1.70" fill="#44405e" />
<rect x="155.00" y="561.90" width="1.00" height="1.70" fill="#4a4a66" />
<rect x="156.00" y="561.90" width="1.00" height="1.70" fill="#6e6a84" />
<rect x="157.00" y="561.90" width="1.00" height="1.70" fill="#4a4a66" />
<rect x="158.00" y="561.90" width="1.00" height="1.70" fill="#4a4a66" />
<rect x="159.00" y="561.90" width="1.00" height="1.70" fill="#3c3c58" />
<rect x="160.00" y="561.90" width="1.00" height="1.70" fill="#5a5470" />
<rect x="161.00" y="561.90" width="1.00" height="1.70" fill="#4a4a66" />
<rect x="162.00" y="561.90" width="1.00" height="1.70" fill="#5a5470" />
<rect x="163.00" y="561.90" width="1.00" height="1.70" fill="#44405e" />
<rect x="164.00" y="561.90" width="1.00" height="1.70" fill="#4a4a66" />
<rect x="165.00" y="561.90" width="1.00" height="1.70" fill="#44405e" />
<rect x="166.00" y="561.90" width="1.00" height="1.70" fill="#5a5470" />
<rect x="167.00" y="561.90" width="1.00" height="1.70" fill="#5a5470" />
<rect x="168.00" y="561.90" width="1.00" height="1.70" fill="#44405e" />
<rect x="169.00" y="561.90" width="1.00" height="1.70" fill="#6e6a84" />
<rect x="170.00" y="561.90" width="1.00" height="1.70" fill="#4a4a66" />
<rect x="171.00" y="561.90" width="1.00" height="1.70" fill="#3c3c58" />
<rect x="172.00" y="561.90" width="1.00" height="1.70" fill="#5a5470" />
<rect x="173.00" y="561.90" width="1.00" height="1.70" fill="#6e6a84" />
<rect x="174.00" y="561.90" width="1.00" height="1.70" fill="#44405e" />
<rect x="175.00" y="561.90" width="1.00" height="1.70" fill="#44405e" />
<rect x="176.00" y="561.90" width="1.00" height="1.70" fill="#6e6a84" />
<rect x="177.00" y="561.90" width="1.00" height="1.70" fill="#44405e" />
<rect x="178.00" y="561.90" width="1.00" height="1.70" fill="#4a4a66" />
<rect x="179.00" y="561.90" width="1.00" height="1.70" fill="#44405e" />
<rect x="180.00" y="561.90" width="1.00" height="1.70" fill="#4a4a66" />
<rect x="181.00" y="561.90" width="1.00" height="1.70" fill="#44405e" />
<rect x="182.00" y="561.90" width="1.00" height="1.70" fill="#44405e" />
<rect x="183.00" y="561.90" width="1.00" height="1.70" fill="#3c3c58" />
<rect x="184.00" y="561.90" width="1.00" height="1.70" fill="#6e6a84" />
<rect x="185.00" y="561.90" width="1.00" height="1.70" fill="#4a4a66" />
<rect x="186.00" y="561.90" width="1.00" height="1.70" fill="#44405e" />
<rect x="187.00" y="561.90" width="1.00" height="1.70" fill="#3c3c58" />
<rect x="188.00" y="561.90" width="1.00" height="1.70" fill="#4a4a66" />
<rect x="189.00" y="561.90" width="1.00" height="1.70" fill="#4a4a66" />
<rect x="190.00" y="561.90" width="1.00" height="1.70" fill="#4a4a66" />
<rect x="191.00" y="561.90" width="1.00" height="1.70" fill="#6e6a84" />
<rect x="192.00" y="561.90" width="1.00" height="1.70" fill="#44405e" />
<rect x="193.00" y="561.90" width="1.00" height="1.70" fill="#3c3c58" />
<rect x="194.00" y="561.90" width="1.00" height="1.70" fill="#44405e" />
<rect x="195.00" y="561.90" width="1.00" height="1.70" fill="#3c3c58" />
<rect x="196.00" y="561.90" width="1.00" height="1.70" fill="#5a5470" />
<rect x="197.00" y="561.90" width="1.00" height="1.70" fill="#44405e" />
<rect x="198.00" y="561.90" width="1.00" height="1.70" fill="#44405e" />
<rect x="199.00" y="561.90" width="1.00" height="1.70" fill="#44405e" />
<rect x="200.00" y="561.90" width="1.00" height="1.70" fill="#6e6a84" />
<rect x="201.00" y="561.90" width="1.00" height="1.70" fill="#3c3c58" />
<rect x="202.00" y="561.90" width="1.00" height="1.70" fill="#44405e" />
<rect x="203.00" y="561.90" width="1.00" height="1.70" fill="#3c3c58" />
<rect x="204.00" y="561.90" width="1.00" height="1.70" fill="#4a4a66" />
<rect x="205.00" y="561.90" width="1.00" height="1.70" fill="#4a4a66" />
<rect x="206.00" y="561.90" width="1.00" height="1.70" fill="#5a5470" />
<rect x="207.00" y="561.90" width="1.00" height="1.70" fill="#3c3c58" />
<rect x="208.00" y="561.90" width="1.00" height="1.70" fill="#3c3c58" />
<rect x="209.00" y="561.90" width="1.00" height="1.70" fill="#44405e" />
<rect x="210.00" y="561.90" width="1.00" height="1.70" fill="#6e6a84" />
<rect x="211.00" y="561.90" width="1.00" height="1.70" fill="#44405e" />
<rect x="212.00" y="561.90" width="1.00" height="1.70" fill="#3c3c58" />
<rect x="213.00" y="561.90" width="1.00" height="1.70" fill="#3c3c58" />
<rect x="214.00" y="561.90" width="1.00" height="1.70" fill="#6e6a84" />
<rect x="215.00" y="561.90" width="1.00" height="1.70" fill="#5a5470" />
<rect x="216.00" y="561.90" width="1.00" height="1.70" fill="#44405e" />
<rect x="217.00" y="561.90" width="1.00" height="1.70" fill="#44405e" />
<rect x="218.00" y="561.90" width="1.00" height="1.70" fill="#44405e" />
<rect x="219.00" y="561.90" width="1.00" height="1.70" fill="#44405e" />
<rect x="220.00" y="561.90" width="1.00" height="1.70" fill="#4a4a66" />
<rect x="221.00" y="561.90" width="1.00" height="1.70" fill="#5a5470" />
<rect x="222.00" y="561.90" width="1.00" height="1.70" fill="#6e6a84" />
<rect x="223.00" y="561.90" width="1.00" height="1.70" fill="#44405e" />
<rect x="224.00" y="561.90" width="1.00" height="1.70" fill="#44405e" />
<rect x="225.00" y="561.90" width="1.00" height="1.70" fill="#6e6a84" />
<rect x="226.00" y="561.90" width="1.00" height="1.70" fill="#44405e" />
<rect x="227.00" y="561.90" width="1.00" height="1.70" fill="#4a4a66" />
<rect x="228.00" y="561.90" width="1.00" height="1.70" fill="#44405e" />
<rect x="229.00" y="561.90" width="1.00" height="1.70" fill="#5a5470" />
<rect x="230.00" y="561.90" width="1.00" height="1.70" fill="#44405e" />
<rect x="231.00" y="561.90" width="1.00" height="1.70" fill="#4a4a66" />
<rect x="232.00" y="561.90" width="1.00" height="1.70" fill="#6e6a84" />
<rect x="233.00" y="561.90" width="1.00" height="1.70" fill="#4a4a66" />
<rect x="234.00" y="561.90" width="1.00" height="1.70" fill="#6e6a84" />
<rect x="235.00" y="561.90" width="1.00" height="1.70" fill="#3c3c58" />
<rect x="236.00" y="561.90" width="1.00" height="1.70" fill="#6e6a84" />
<rect x="237.00" y="561.90" width="1.00" height="1.70" fill="#6e6a84" />
<rect x="238.00" y="561.90" width="1.00" height="1.70" fill="#5a5470" />
<rect x="239.00" y="561.90" width="1.00" height="1.70" fill="#3c3c58" />
<rect x="240.00" y="561.90" width="1.00" height="1.70" fill="#4a4a66" />
<rect x="241.00" y="561.90" width="1.00" height="1.70" fill="#6e6a84" />
<rect x="242.00" y="561.90" width="1.00" height="1.70" fill="#3c3c58" />
<rect x="243.00" y="561.90" width="1.00" height="1.70" fill="#4a4a66" />
<rect x="244.00" y="561.90" width="1.00" height="1.70" fill="#5a5470" />
<rect x="245.00" y="561.90" width="1.00" height="1.70" fill="#3c3c58" />
<rect x="246.00" y="561.90" width="1.00" height="1.70" fill="#4a4a66" />
<rect x="247.00" y="561.90" width="1.00" height="1.70" fill="#5a5470" />
<rect x="248.00" y="561.90" width="1.00" height="1.70" fill="#4a4a66" />
<rect x="249.00" y="561.90" width="1.00" height="1.70" fill="#5a5470" />
<rect x="250.00" y="561.90" width="1.00" height="1.70" fill="#4a4a66" />
<rect x="251.00" y="561.90" width="1.00" height="1.70" fill="#6e6a84" />
<rect x="252.00" y="561.90" width="1.00" height="1.70" fill="#4a4a66" />
<rect x="253.00" y="561.90" width="1.00" height="1.70" fill="#3c3c58" />
<rect x="254.00" y="561.90" width="1.00" height="1.70" fill="#6e6a84" />
<rect x="255.00" y="561.90" width="1.00" height="1.70" fill="#6e6a84" />
<rect x="256.00" y="561.90" width="1.00" height="1.70" fill="#4a4a66" />
<rect x="257.00" y="561.90" width="1.00" height="1.70" fill="#4a4a66" />
<rect x="258.00" y="561.90" width="1.00" height="1.70" fill="#4a4a66" />
<rect x="259.00" y="561.90" width="1.00" height="1.70" fill="#6e6a84" />
<rect x="260.00" y="561.90" width="1.00" height="1.70" fill="#44405e" />
<rect x="261.00" y="561.90" width="1.00" height="1.70" fill="#6e6a84" />
<rect x="262.00" y="561.90" width="1.00" height="1.70" fill="#5a5470" />
<rect x="263.00" y="561.90" width="1.00" height="1.70" fill="#6e6a84" />
<rect x="264.00" y="561.90" width="1.00" height="1.70" fill="#4a4a66" />
<rect x="265.00" y="561.90" width="1.00" height="1.70" fill="#5a5470" />
<rect x="266.00" y="561.90" width="1.00" height="1.70" fill="#5a5470" />
<rect x="267.00" y="561.90" width="1.00" height="1.70" fill="#3c3c58" />
<rect x="268.00" y="561.90" width="1.00" height="1.70" fill="#5a5470" />
<rect x="269.00" y="561.90" width="1.00" height="1.70" fill="#3c3c58" />
<rect x="270.00" y="561.90" width="1.00" height="1.70" fill="#5a5470" />
<rect x="271.00" y="561.90" width="1.00" height="1.70" fill="#44405e" />
<rect x="272.00" y="561.90" width="1.00" height="1.70" fill="#6e6a84" />
<rect x="273.00" y="561.90" width="1.00" height="1.70" fill="#6e6a84" />
<rect x="274.00" y="561.90" width="1.00" height="1.70" fill="#3c3c58" />
<rect x="275.00" y="561.90" width="1.00" height="1.70" fill="#6e6a84" />
<rect x="276.00" y="561.90" width="1.00" height="1.70" fill="#5a5470" />
<rect x="277.00" y="561.90" width="1.00" height="1.70" fill="#44405e" />
<rect x="278.00" y="561.90" width="1.00" height="1.70" fill="#44405e" />
<rect x="279.00" y="561.90" width="1.00" height="1.70" fill="#5a5470" />
<rect x="280.00" y="561.90" width="1.00" height="1.70" fill="#44405e" />
<rect x="281.00" y="561.90" width="1.00" height="1.70" fill="#3c3c58" />
<rect x="282.00" y="561.90" width="1.00" height="1.70" fill="#3c3c58" />
<rect x="283.00" y="561.90" width="1.00" height="1.70" fill="#4a4a66" />
<rect x="284.00" y="561.90" width="1.00" height="1.70" fill="#3c3c58" />
<rect x="285.00" y="561.90" width="1.00" height="1.70" fill="#3c3c58" />
<rect x="286.00" y="561.90" width="1.00" height="1.70" fill="#5a5470" />
<rect x="287.00" y="561.90" width="1.00" height="1.70" fill="#5a5470" />
<rect x="288.00" y="561.90" width="1.00" height="1.70" fill="#3c3c58" />
<rect x="289.00" y="561.90" width="1.00" height="1.70" fill="#4a4a66" />
<rect x="290.00" y="561.90" width="1.00" height="1.70" fill="#5a5470" />
<rect x="291.00" y="561.90" width="1.00" height="1.70" fill="#4a4a66" />
<rect x="292.00" y="561.90" width="1.00" height="1.70" fill="#6e6a84" />
<rect x="293.00" y="561.90" width="1.00" height="1.70" fill="#5a5470" />
<rect x="294.00" y="561.90" width="1.00" height="1.70" fill="#6e6a84" />
<rect x="295.00" y="561.90" width="1.00" height="1.70" fill="#4a4a66" />
<rect x="296.00" y="561.90" width="1.00" height="1.70" fill="#44405e" />
<rect x="297.00" y="561.90" width="1.00" height="1.70" fill="#44405e" />
<rect x="298.00" y="561.90" width="1.00" height="1.70" fill="#44405e" />
<rect x="299.00" y="561.90" width="1.00" height="1.70" fill="#6e6a84" />
<rect x="300.00" y="561.90" width="1.00" height="1.70" fill="#5a5470" />
<rect x="301.00" y="561.90" width="1.00" height="1.70" fill="#3c3c58" />
<rect x="302.00" y="561.90" width="1.00" height="1.70" fill="#5a5470" />
<rect x="303.00" y="561.90" width="1.00" height="1.70" fill="#3c3c58" />
<rect x="304.00" y="561.90" width="1.00" height="1.70" fill="#4a4a66" />
<rect x="305.00" y="561.90" width="1.00" height="1.70" fill="#6e6a84" />
<rect x="306.00" y="561.90" width="1.00" height="1.70" fill="#3c3c58" />
<rect x="307.00" y="561.90" width="1.00" height="1.70" fill="#5a5470" />
<rect x="308.00" y="561.90" width="1.00" height="1.70" fill="#3c3c58" />
<rect x="309.00" y="561.90" width="1.00" height="1.70" fill="#3c3c58" />
<rect x="310.00" y="561.90" width="1.00" height="1.70" fill="#5a5470" />
<rect x="311.00" y="561.90" width="1.00" height="1.70" fill="#3c3c58" />
<rect x="312.00" y="561.90" width="1.00" height="1.70" fill="#44405e" />
<rect x="313.00" y="561.90" width="1.00" height="1.70" fill="#4a4a66" />
<rect x="314.00" y="561.90" width="1.00" height="1.70" fill="#3c3c58" />
<rect x="315.00" y="561.90" width="1.00" height="1.70" fill="#5a5470" />
<rect x="316.00" y="561.90" width="1.00" height="1.70" fill="#3c3c58" />
<rect x="317.00" y="561.90" width="1.00" height="1.70" fill="#6e6a84" />
<rect x="318.00" y="561.90" width="1.00" height="1.70" fill="#3c3c58" />
<rect x="319.00" y="561.90" width="1.00" height="1.70" fill="#5a5470" />
<rect x="320.00" y="561.90" width="1.00" height="1.70" fill="#44405e" />
<rect x="321.00" y="561.90" width="1.00" height="1.70" fill="#6e6a84" />
<rect x="322.00" y="561.90" width="1.00" height="1.70" fill="#5a5470" />
<rect x="323.00" y="561.90" width="1.00" height="1.70" fill="#44405e" />
<rect x="324.00" y="561.90" width="1.00" height="1.70" fill="#4a4a66" />
<rect x="325.00" y="561.90" width="1.00" height="1.70" fill="#3c3c58" />
<rect x="326.00" y="561.90" width="1.00" height="1.70" fill="#44405e" />
<rect x="327.00" y="561.90" width="1.00" height="1.70" fill="#4a4a66" />
<rect x="328.00" y="561.90" width="1.00" height="1.70" fill="#3c3c58" />
<rect x="329.00" y="561.90" width="1.00" height="1.70" fill="#4a4a66" />
<rect x="330.00" y="561.90" width="1.00" height="1.70" fill="#5a5470" />
<rect x="331.00" y="561.90" width="1.00" height="1.70" fill="#3c3c58" />
<rect x="332.00" y="561.90" width="1.00" height="1.70" fill="#4a4a66" />
<rect x="333.00" y="561.90" width="1.00" height="1.70" fill="#4a4a66" />
<rect x="334.00" y="561.90" width="1.00" height="1.70" fill="#5a5470" />
<rect x="335.00" y="561.90" width="1.00" height="1.70" fill="#5a5470" />
<rect x="336.00" y="561.90" width="1.00" height="1.70" fill="#44405e" />
<rect x="337.00" y="561.90" width="1.00" height="1.70" fill="#4a4a66" />
<rect x="338.00" y="561.90" width="1.00" height="1.70" fill="#5a5470" />
<rect x="339.00" y="561.90" width="1.00" height="1.70" fill="#6e6a84" />
<rect x="340.00" y="561.90" width="1.00" height="1.70" fill="#44405e" />
<rect x="341.00" y="561.90" width="1.00" height="1.70" fill="#4a4a66" />
<rect x="342.00" y="561.90" width="1.00" height="1.70" fill="#5a5470" />
<rect x="343.00" y="561.90" width="1.00" height="1.70" fill="#5a5470" />
<rect x="344.00" y="561.90" width="1.00" height="1.70" fill="#3c3c58" />
<rect x="345.00" y="561.90" width="1.00" height="1.70" fill="#5a5470" />
<rect x="346.00" y="561.90" width="1.00" height="1.70" fill="#3c3c58" />
<rect x="347.00" y="561.90" width="1.00" height="1.70" fill="#3c3c58" />
<rect x="348.00" y="561.90" width="1.00" height="1.70" fill="#3c3c58" />
<rect x="349.00" y="561.90" width="1.00" height="1.70" fill="#44405e" />
<rect x="350.00" y="561.90" width="1.00" height="1.70" fill="#44405e" />
<rect x="351.00" y="561.90" width="1.00" height="1.70" fill="#4a4a66" />
<rect x="352.00" y="561.90" width="1.00" height="1.70" fill="#44405e" />
<rect x="353.00" y="561.90" width="1.00" height="1.70" fill="#6e6a84" />
<rect x="354.00" y="561.90" width="1.00" height="1.70" fill="#4a4a66" />
<rect x="355.00" y="561.90" width="1.00" height="1.70" fill="#6e6a84" />
<rect x="356.00" y="561.90" width="1.00" height="1.70" fill="#3c3c58" />
<rect x="357.00" y="561.90" width="1.00" height="1.70" fill="#6e6a84" />
<rect x="358.00" y="561.90" width="1.00" height="1.70" fill="#6e6a84" />
<rect x="359.00" y="561.90" width="1.00" height="1.70" fill="#44405e" />
<rect x="360.00" y="561.90" width="1.00" height="1.70" fill="#6e6a84" />
<rect x="361.00" y="561.90" width="1.00" height="1.70" fill="#44405e" />
<rect x="362.00" y="561.90" width="1.00" height="1.70" fill="#5a5470" />
<rect x="363.00" y="561.90" width="1.00" height="1.70" fill="#4a4a66" />
<rect x="364.00" y="561.90" width="1.00" height="1.70" fill="#4a4a66" />
<rect x="365.00" y="561.90" width="1.00" height="1.70" fill="#5a5470" />
<rect x="366.00" y="561.90" width="1.00" height="1.70" fill="#4a4a66" />
<rect x="367.00" y="561.90" width="1.00" height="1.70" fill="#4a4a66" />
<rect x="368.00" y="561.90" width="1.00" height="1.70" fill="#6e6a84" />
<rect x="369.00" y="561.90" width="1.00" height="1.70" fill="#5a5470" />
<rect x="370.00" y="561.90" width="1.00" height="1.70" fill="#3c3c58" />
<rect x="371.00" y="561.90" width="1.00" height="1.70" fill="#4a4a66" />
<rect x="372.00" y="561.90" width="1.00" height="1.70" fill="#3c3c58" />
<rect x="373.00" y="561.90" width="1.00" height="1.70" fill="#3c3c58" />
<rect x="374.00" y="561.90" width="1.00" height="1.70" fill="#5a5470" />
<rect x="375.00" y="561.90" width="1.00" height="1.70" fill="#6e6a84" />
<rect x="376.00" y="561.90" width="1.00" height="1.70" fill="#4a4a66" />
<rect x="377.00" y="561.90" width="1.00" height="1.70" fill="#3c3c58" />
<rect x="378.00" y="561.90" width="1.00" height="1.70" fill="#3c3c58" />
<rect x="379.00" y="561.90" width="1.00" height="1.70" fill="#6e6a84" />
<rect x="380.00" y="561.90" width="1.00" height="1.70" fill="#44405e" />
<rect x="381.00" y="561.90" width="1.00" height="1.70" fill="#5a5470" />
<rect x="382.00" y="561.90" width="1.00" height="1.70" fill="#44405e" />
<rect x="383.00" y="561.90" width="1.00" height="1.70" fill="#4a4a66" />
<rect x="384.00" y="561.90" width="1.00" height="1.70" fill="#5a5470" />
<rect x="385.00" y="561.90" width="1.00" height="1.70" fill="#3c3c58" />
<rect x="386.00" y="561.90" width="1.00" height="1.70" fill="#6e6a84" />
<rect x="387.00" y="561.90" width="1.00" height="1.70" fill="#4a4a66" />
<rect x="388.00" y="561.90" width="1.00" height="1.70" fill="#4a4a66" />
<rect x="389.00" y="561.90" width="1.00" height="1.70" fill="#5a5470" />
<rect x="390.00" y="561.90" width="1.00" height="1.70" fill="#6e6a84" />
<rect x="391.00" y="561.90" width="1.00" height="1.70" fill="#3c3c58" />
<rect x="392.00" y="561.90" width="1.00" height="1.70" fill="#5a5470" />
<rect x="393.00" y="561.90" width="1.00" height="1.70" fill="#5a5470" />
<rect x="394.00" y="561.90" width="1.00" height="1.70" fill="#5a5470" />
<rect x="395.00" y="561.90" width="1.00" height="1.70" fill="#44405e" />
<rect x="396.00" y="561.90" width="1.00" height="1.70" fill="#5a5470" />
<rect x="397.00" y="561.90" width="1.00" height="1.70" fill="#4a4a66" />
<rect x="398.00" y="561.90" width="1.00" height="1.70" fill="#3c3c58" />
<rect x="399.00" y="561.90" width="1.00" height="1.70" fill="#5a5470" />
<rect x="400.00" y="561.90" width="1.00" height="1.70" fill="#4a4a66" />
<rect x="401.00" y="561.90" width="1.00" height="1.70" fill="#5a5470" />
<rect x="402.00" y="561.90" width="1.00" height="1.70" fill="#4a4a66" />
<rect x="403.00" y="561.90" width="1.00" height="1.70" fill="#3c3c58" />
<rect x="404.00" y="561.90" width="1.00" height="1.70" fill="#5a5470" />
<rect x="405.00" y="561.90" width="1.00" height="1.70" fill="#6e6a84" />
<rect x="406.00" y="561.90" width="1.00" height="1.70" fill="#3c3c58" />
<rect x="407.00" y="561.90" width="1.00" height="1.70" fill="#6e6a84" />
<rect x="408.00" y="561.90" width="1.00" height="1.70" fill="#5a5470" />
<rect x="409.00" y="561.90" width="1.00" height="1.70" fill="#44405e" />
<rect x="410.00" y="561.90" width="1.00" height="1.70" fill="#4a4a66" />
<rect x="411.00" y="561.90" width="1.00" height="1.70" fill="#4a4a66" />
<rect x="412.00" y="561.90" width="1.00" height="1.70" fill="#44405e" />
<rect x="413.00" y="561.90" width="1.00" height="1.70" fill="#3c3c58" />
<rect x="414.00" y="561.90" width="1.00" height="1.70" fill="#3c3c58" />
<rect x="415.00" y="561.90" width="1.00" height="1.70" fill="#5a5470" />
<rect x="416.00" y="561.90" width="1.00" height="1.70" fill="#3c3c58" />
<rect x="417.00" y="561.90" width="1.00" height="1.70" fill="#4a4a66" />
<rect x="418.00" y="561.90" width="1.00" height="1.70" fill="#6e6a84" />
<rect x="419.00" y="561.90" width="1.00" height="1.70" fill="#44405e" />
<rect x="420.00" y="561.90" width="1.00" height="1.70" fill="#3c3c58" />
<rect x="421.00" y="561.90" width="1.00" height="1.70" fill="#6e6a84" />
<rect x="422.00" y="561.90" width="1.00" height="1.70" fill="#3c3c58" />
<rect x="423.00" y="561.90" width="1.00" height="1.70" fill="#5a5470" />
<rect x="424.00" y="561.90" width="1.00" height="1.70" fill="#5a5470" />
<rect x="425.00" y="561.90" width="1.00" height="1.70" fill="#4a4a66" />
<rect x="426.00" y="561.90" width="1.00" height="1.70" fill="#3c3c58" />
<rect x="427.00" y="561.90" width="1.00" height="1.70" fill="#44405e" />
<rect x="428.00" y="561.90" width="1.00" height="1.70" fill="#44405e" />
<rect x="429.00" y="561.90" width="1.00" height="1.70" fill="#4a4a66" />
<rect x="430.00" y="561.90" width="1.00" height="1.70" fill="#44405e" />
<rect x="431.00" y="561.90" width="1.00" height="1.70" fill="#6e6a84" />
<rect x="432.00" y="561.90" width="1.00" height="1.70" fill="#5a5470" />
<rect x="433.00" y="561.90" width="1.00" height="1.70" fill="#6e6a84" />
<rect x="434.00" y="561.90" width="1.00" height="1.70" fill="#4a4a66" />
<rect x="435.00" y="561.90" width="1.00" height="1.70" fill="#5a5470" />
<rect x="436.00" y="561.90" width="1.00" height="1.70" fill="#44405e" />
<rect x="437.00" y="561.90" width="1.00" height="1.70" fill="#4a4a66" />
<rect x="438.00" y="561.90" width="1.00" height="1.70" fill="#3c3c58" />
<rect x="439.00" y="561.90" width="1.00" height="1.70" fill="#44405e" />
<rect x="440.00" y="561.90" width="1.00" height="1.70" fill="#6e6a84" />
<rect x="441.00" y="561.90" width="1.00" height="1.70" fill="#44405e" />
<rect x="442.00" y="561.90" width="1.00" height="1.70" fill="#4a4a66" />
<rect x="443.00" y="561.90" width="1.00" height="1.70" fill="#44405e" />
<rect x="444.00" y="561.90" width="1.00" height="1.70" fill="#44405e" />
<rect x="445.00" y="561.90" width="1.00" height="1.70" fill="#44405e" />
<rect x="446.00" y="561.90" width="1.00" height="1.70" fill="#3c3c58" />
<rect x="447.00" y="561.90" width="1.00" height="1.70" fill="#44405e" />
<rect x="448.00" y="561.90" width="1.00" height="1.70" fill="#4a4a66" />
<rect x="449.00" y="561.90" width="1.00" height="1.70" fill="#3c3c58" />
<rect x="450.00" y="561.90" width="1.00" height="1.70" fill="#3c3c58" />
<rect x="451.00" y="561.90" width="1.00" height="1.70" fill="#3c3c58" />
<rect x="452.00" y="561.90" width="1.00" height="1.70" fill="#4a4a66" />
<rect x="453.00" y="561.90" width="1.00" height="1.70" fill="#5a5470" />
<rect x="454.00" y="561.90" width="1.00" height="1.70" fill="#3c3c58" />
<rect x="455.00" y="561.90" width="1.00" height="1.70" fill="#6e6a84" />
<rect x="456.00" y="561.90" width="1.00" height="1.70" fill="#6e6a84" />
<rect x="457.00" y="561.90" width="1.00" height="1.70" fill="#44405e" />
<rect x="458.00" y="561.90" width="1.00" height="1.70" fill="#3c3c58" />
<rect x="459.00" y="561.90" width="1.00" height="1.70" fill="#3c3c58" />
<rect x="460.00" y="561.90" width="1.00" height="1.70" fill="#44405e" />
<rect x="461.00" y="561.90" width="1.00" height="1.70" fill="#4a4a66" />
<rect x="462.00" y="561.90" width="1.00" height="1.70" fill="#6e6a84" />
<rect x="463.00" y="561.90" width="1.00" height="1.70" fill="#5a5470" />
<rect x="464.00" y="561.90" width="1.00" height="1.70" fill="#3c3c58" />
<rect x="465.00" y="561.90" width="1.00" height="1.70" fill="#6e6a84" />
<rect x="466.00" y="561.90" width="1.00" height="1.70" fill="#3c3c58" />
<rect x="467.00" y="561.90" width="1.00" height="1.70" fill="#44405e" />
<rect x="468.00" y="561.90" width="1.00" height="1.70" fill="#44405e" />
<rect x="469.00" y="561.90" width="1.00" height="1.70" fill="#3c3c58" />
<rect x="470.00" y="561.90" width="1.00" height="1.70" fill="#44405e" />
<rect x="471.00" y="561.90" width="1.00" height="1.70" fill="#3c3c58" />
<rect x="472.00" y="561.90" width="1.00" height="1.70" fill="#6e6a84" />
<rect x="473.00" y="561.90" width="1.00" height="1.70" fill="#5a5470" />
<rect x="474.00" y="561.90" width="1.00" height="1.70" fill="#3c3c58" />
<text x="482.50" y="272.40" font-size="21.5" font-weight="normal" text-anchor="start" fill="#000" >1</text>
<text x="482.50" y="465.30" font-size="21.5" font-weight="normal" text-anchor="start" fill="#000" >2</text>
<rect x="505.00" y="168.00" width="17.00" height="6.00" fill="#7d0f2a" />
<rect x="505.00" y="173.00" width="17.00" height="6.00" fill="#80102a" />
<rect x="505.00" y="178.00" width="17.00" height="6.00" fill="#88112a" />
<rect x="505.00" y="183.00" width="17.00" height="6.00" fill="#90122a" />
<rect x="505.00" y="188.00" width="17.00" height="6.00" fill="#9a152a" />
<rect x="505.00" y="193.00" width="17.00" height="6.00" fill="#a5182a" />
<rect x="505.00" y="198.00" width="17.00" height="6.00" fill="#b11a29" />
<rect x="505.00" y="203.00" width="17.00" height="6.00" fill="#bc1c27" />
<rect x="505.00" y="208.00" width="17.00" height="6.00" fill="#c81e26" />
<rect x="505.00" y="213.00" width="17.00" height="6.00" fill="#d02126" />
<rect x="505.00" y="218.00" width="17.00" height="6.00" fill="#d82325" />
<rect x="505.00" y="223.00" width="17.00" height="6.00" fill="#df2624" />
<rect x="505.00" y="228.00" width="17.00" height="6.00" fill="#e62822" />
<rect x="505.00" y="233.00" width="17.00" height="6.00" fill="#ea2f24" />
<rect x="505.00" y="238.00" width="17.00" height="6.00" fill="#ee3625" />
<rect x="505.00" y="243.00" width="17.00" height="6.00" fill="#f13d27" />
<rect x="505.00" y="248.00" width="17.00" height="6.00" fill="#f44429" />
<rect x="505.00" y="253.00" width="17.00" height="6.00" fill="#f54b2b" />
<rect x="505.00" y="258.00" width="17.00" height="6.00" fill="#f4522c" />
<rect x="505.00" y="263.00" width="17.00" height="6.00" fill="#f15d30" />
<rect x="505.00" y="268.00" width="17.00" height="6.00" fill="#f06734" />
<rect x="505.00" y="273.00" width="17.00" height="6.00" fill="#ef6f37" />
<rect x="505.00" y="278.00" width="17.00" height="6.00" fill="#ee773a" />
<rect x="505.00" y="283.00" width="17.00" height="6.00" fill="#ee7b3c" />
<rect x="505.00" y="288.00" width="17.00" height="6.00" fill="#ee803f" />
<rect x="505.00" y="293.00" width="17.00" height="6.00" fill="#ee8641" />
<rect x="505.00" y="298.00" width="17.00" height="6.00" fill="#ec8d44" />
<rect x="505.00" y="303.00" width="17.00" height="6.00" fill="#ec9246" />
<rect x="505.00" y="308.00" width="17.00" height="6.00" fill="#ea9647" />
<rect x="505.00" y="313.00" width="17.00" height="6.00" fill="#ea9b49" />
<rect x="505.00" y="318.00" width="17.00" height="6.00" fill="#e9a24c" />
<rect x="505.00" y="323.00" width="17.00" height="6.00" fill="#e9a84e" />
<rect x="505.00" y="328.00" width="17.00" height="6.00" fill="#e9ae52" />
<rect x="505.00" y="333.00" width="17.00" height="6.00" fill="#e9b455" />
<rect x="505.00" y="338.00" width="17.00" height="6.00" fill="#e9ba5a" />
<rect x="505.00" y="343.00" width="17.00" height="6.00" fill="#e9c15f" />
<rect x="505.00" y="348.00" width="17.00" height="6.00" fill="#eac967" />
<rect x="505.00" y="353.00" width="17.00" height="6.00" fill="#ebd272" />
<rect x="505.00" y="358.00" width="17.00" height="6.00" fill="#ecd87b" />
<rect x="505.00" y="363.00" width="17.00" height="6.00" fill="#eddd84" />
<rect x="505.00" y="368.00" width="17.00" height="6.00" fill="#eee38c" />
<rect x="505.00" y="373.00" width="17.00" height="6.00" fill="#efe894" />
<rect x="505.00" y="378.00" width="17.00" height="6.00" fill="#f0ea9a" />
<rect x="505.00" y="383.00" width="17.00" height="6.00" fill="#f1eea2" />
<rect x="505.00" y="388.00" width="17.00" height="6.00" fill="#f2f0a8" />
<rect x="505.00" y="393.00" width="17.00" height="6.00" fill="#f2f3b0" />
<rect x="505.00" y="398.00" width="17.00" height="6.00" fill="#f3f4b8" />
<rect x="505.00" y="403.00" width="17.00" height="6.00" fill="#f3f6c0" />
<rect x="505.00" y="408.00" width="17.00" height="6.00" fill="#f3f7c4" />
<rect x="505.00" y="413.00" width="17.00" height="5.00" fill="#f3f8c8" />
<text x="525.00" y="174.30" font-size="16.6" font-weight="normal" text-anchor="start" fill="#000" >1</text>
<text x="525.00" y="224.30" font-size="16.6" font-weight="normal" text-anchor="start" fill="#000" >0.8</text>
<text x="525.00" y="274.30" font-size="16.6" font-weight="normal" text-anchor="start" fill="#000" >0.6</text>
<text x="525.00" y="324.30" font-size="16.6" font-weight="normal" text-anchor="start" fill="#000" >0.4</text>
<text x="525.00" y="374.30" font-size="16.6" font-weight="normal" text-anchor="start" fill="#000" >0.2</text>
<text x="525.00" y="424.30" font-size="16.6" font-weight="normal" text-anchor="start" fill="#000" >0</text>
<text x="587.50" y="180.70" font-size="16.5" font-weight="bold" text-anchor="start" fill="#000" >basis</text>
<rect x="587.40" y="186.70" width="12.60" height="12.30" fill="#9f9efb" />
<text x="603.30" y="199.40" font-size="16.5" font-weight="normal" text-anchor="start" fill="#000" >1</text>
<rect x="587.40" y="205.20" width="12.60" height="12.60" fill="#f57ff9" />
<text x="603.30" y="218.00" font-size="16.5" font-weight="normal" text-anchor="start" fill="#000" >2</text>
<text x="587.50" y="254.40" font-size="16.5" font-weight="bold" text-anchor="start" fill="#000" >consensus</text>
<rect x="587.40" y="261.20" width="12.60" height="12.00" fill="#62b9fb" />
<text x="603.30" y="273.40" font-size="16.5" font-weight="normal" text-anchor="start" fill="#000" >1</text>
<rect x="587.40" y="280.00" width="12.60" height="12.00" fill="#d28bf8" />
<text x="603.30" y="292.20" font-size="16.5" font-weight="normal" text-anchor="start" fill="#000" >2</text>
<path d="M113.60 122.40L113.60 119.24L115.00 119.24L115.00 122.40M112.20 122.40L112.20 108.20L114.30 108.20L114.30 119.24M116.39 122.40L116.39 119.48L117.79 119.48L117.79 122.40M119.19 122.40L119.19 119.02L120.59 119.02L120.59 122.40M123.38 122.40L123.38 119.91L124.78 119.91L124.78 122.40M121.99 122.40L121.99 119.11L124.08 119.11L124.08 119.91M126.18 122.40L126.18 119.25L127.58 119.25L127.58 122.40M126.88 119.25L126.88 118.21L128.98 118.21L128.98 122.40M127.93 118.21L127.93 117.41L130.37 117.41L130.37 122.40M123.03 119.11L123.03 115.76L129.15 115.76L129.15 117.41M119.89 119.02L119.89 114.96L126.09 114.96L126.09 115.76M117.09 119.48L117.09 114.16L122.99 114.16L122.99 114.96M131.77 122.40L131.77 119.18L133.17 119.18L133.17 122.40M120.04 114.16L120.04 113.36L132.47 113.36L132.47 119.18M134.57 122.40L134.57 119.80L135.97 119.80L135.97 122.40M135.27 119.80L135.27 119.00L137.36 119.00L137.36 122.40M138.76 122.40L138.76 119.79L140.16 119.79L140.16 122.40M139.46 119.79L139.46 118.75L141.56 118.75L141.56 122.40M145.75 122.40L145.75 119.00L147.15 119.00L147.15 122.40M144.35 122.40L144.35 118.20L146.45 118.20L146.45 119.00M142.96 122.40L142.96 116.40L145.40 116.40L145.40 118.20M140.51 118.75L140.51 115.01L144.18 115.01L144.18 116.40M136.32 119.00L136.32 114.21L142.35 114.21L142.35 115.01M126.26 113.36L126.26 109.70L139.33 109.70L139.33 114.21M148.55 122.40L148.55 111.00L149.95 111.00L149.95 122.40M151.35 122.40L151.35 119.14L152.74 119.14L152.74 122.40M154.14 122.40L154.14 119.62L155.54 119.62L155.54 122.40M154.84 119.62L154.84 118.31L156.94 118.31L156.94 122.40M155.89 118.31L155.89 117.05L158.34 117.05L158.34 122.40M152.04 119.14L152.04 115.11L157.11 115.11L157.11 117.05M159.73 122.40L159.73 119.28L161.13 119.28L161.13 122.40M162.53 122.40L162.53 119.90L163.93 119.90L163.93 122.40M165.33 122.40L165.33 119.96L166.72 119.96L166.72 122.40M163.23 119.90L163.23 117.90L166.02 117.90L166.02 119.96M160.43 119.28L160.43 117.10L164.63 117.10L164.63 117.90M154.58 115.11L154.58 110.00L162.53 110.00L162.53 117.10M149.25 111.00L149.25 107.90L158.55 107.90L158.55 110.00M132.79 109.70L132.79 102.40L153.90 102.40L153.90 107.90M113.25 108.20L113.25 98.00L143.35 98.00L143.35 102.40M168.12 122.40L168.12 119.22L169.52 119.22L169.52 122.40M170.92 122.40L170.92 119.33L172.32 119.33L172.32 122.40M168.82 119.22L168.82 116.97L171.62 116.97L171.62 119.33M175.11 122.40L175.11 119.60L176.51 119.60L176.51 122.40M173.71 122.40L173.71 118.03L175.81 118.03L175.81 119.60M170.22 116.97L170.22 115.51L174.76 115.51L174.76 118.03M177.91 122.40L177.91 119.58L179.31 119.58L179.31 122.40M178.61 119.58L178.61 118.44L180.70 118.44L180.70 122.40M179.66 118.44L179.66 117.64L182.10 117.64L182.10 122.40M172.49 115.51L172.49 113.00L180.88 113.00L180.88 117.64M183.50 122.40L183.50 119.22L184.90 119.22L184.90 122.40M187.70 122.40L187.70 118.90L189.09 118.90L189.09 122.40M186.30 122.40L186.30 118.01L188.39 118.01L188.39 118.90M184.20 119.22L184.20 112.00L187.35 112.00L187.35 118.01M191.89 122.40L191.89 119.61L193.29 119.61L193.29 122.40M192.59 119.61L192.59 118.50L194.69 118.50L194.69 122.40M190.49 122.40L190.49 116.92L193.64 116.92L193.64 118.50M196.08 122.40L196.08 119.88L197.48 119.88L197.48 122.40M196.78 119.88L196.78 119.08L198.88 119.08L198.88 122.40M197.83 119.08L197.83 118.28L200.28 118.28L200.28 122.40M199.05 118.28L199.05 117.48L201.68 117.48L201.68 122.40M200.37 117.48L200.37 115.90L203.07 115.90L203.07 122.40M192.06 116.92L192.06 115.10L201.72 115.10L201.72 115.90M204.47 122.40L204.47 119.32L205.87 119.32L205.87 122.40M196.89 115.10L196.89 114.30L205.17 114.30L205.17 119.32M207.27 122.40L207.27 119.07L208.67 119.07L208.67 122.40M207.97 119.07L207.97 118.04L210.06 118.04L210.06 122.40M201.03 114.30L201.03 113.50L209.02 113.50L209.02 118.04M211.46 122.40L211.46 119.04L212.86 119.04L212.86 122.40M214.26 122.40L214.26 119.50L215.66 119.50L215.66 122.40M212.16 119.04L212.16 116.29L214.96 116.29L214.96 119.50M213.56 116.29L213.56 115.39L217.05 115.39L217.05 122.40M219.85 122.40L219.85 119.98L221.25 119.98L221.25 122.40M220.55 119.98L220.55 118.37L222.65 118.37L222.65 122.40M218.45 122.40L218.45 117.57L221.60 117.57L221.60 118.37M215.31 115.39L215.31 113.70L220.03 113.70L220.03 117.57M205.02 113.50L205.02 112.70L217.67 112.70L217.67 113.70M185.77 112.00L185.77 107.90L211.35 107.90L211.35 112.70M176.69 113.00L176.69 107.20L198.56 107.20L198.56 107.90M224.05 122.40L224.05 119.25L225.44 119.25L225.44 122.40M224.74 119.25L224.74 117.82L226.84 117.82L226.84 122.40M228.24 122.40L228.24 119.25L229.64 119.25L229.64 122.40M225.79 117.82L225.79 116.58L228.94 116.58L228.94 119.25M232.43 122.40L232.43 119.03L233.83 119.03L233.83 122.40M231.04 122.40L231.04 117.49L233.13 117.49L233.13 119.03M235.23 122.40L235.23 119.65L236.63 119.65L236.63 122.40M232.08 117.49L232.08 116.10L235.93 116.10L235.93 119.65M227.37 116.58L227.37 111.30L234.01 111.30L234.01 116.10M239.42 122.40L239.42 119.76L240.82 119.76L240.82 122.40M240.12 119.76L240.12 118.96L242.22 118.96L242.22 122.40M238.03 122.40L238.03 118.16L241.17 118.16L241.17 118.96M245.02 122.40L245.02 119.79L246.41 119.79L246.41 122.40M243.62 122.40L243.62 118.96L245.72 118.96L245.72 119.79M239.60 118.16L239.60 115.13L244.67 115.13L244.67 118.96M250.61 122.40L250.61 119.39L252.01 119.39L252.01 122.40M253.40 122.40L253.40 119.39L254.80 119.39L254.80 122.40M251.31 119.39L251.31 118.59L254.10 118.59L254.10 119.39M249.21 122.40L249.21 117.79L252.71 117.79L252.71 118.59M250.96 117.79L250.96 116.99L256.20 116.99L256.20 122.40M257.60 122.40L257.60 119.86L259.00 119.86L259.00 122.40M253.58 116.99L253.58 116.19L258.30 116.19L258.30 119.86M247.81 122.40L247.81 115.39L255.94 115.39L255.94 116.19M260.40 122.40L260.40 119.05L261.79 119.05L261.79 122.40M264.59 122.40L264.59 119.74L265.99 119.74L265.99 122.40M263.19 122.40L263.19 117.87L265.29 117.87L265.29 119.74M264.24 117.87L264.24 117.07L267.39 117.07L267.39 122.40M261.09 119.05L261.09 116.27L265.81 116.27L265.81 117.07M268.78 122.40L268.78 119.48L270.18 119.48L270.18 122.40M263.45 116.27L263.45 113.68L269.48 113.68L269.48 119.48M251.88 115.39L251.88 112.88L266.47 112.88L266.47 113.68M242.13 115.13L242.13 109.10L259.17 109.10L259.17 112.88M230.69 111.30L230.69 100.40L250.65 100.40L250.65 109.10M187.62 107.20L187.62 95.50L240.67 95.50L240.67 100.40M128.30 98.00L128.30 80.50L214.15 80.50L214.15 95.50M271.58 122.40L271.58 119.48L272.98 119.48L272.98 122.40M274.38 122.40L274.38 118.96L275.77 118.96L275.77 122.40M272.28 119.48L272.28 105.00L275.07 105.00L275.07 118.96M277.17 122.40L277.17 119.89L278.57 119.89L278.57 122.40M279.97 122.40L279.97 119.03L281.37 119.03L281.37 122.40M277.87 119.89L277.87 118.12L280.67 118.12L280.67 119.03M284.16 122.40L284.16 119.95L285.56 119.95L285.56 122.40M284.86 119.95L284.86 119.15L286.96 119.15L286.96 122.40M282.76 122.40L282.76 118.35L285.91 118.35L285.91 119.15M279.27 118.12L279.27 108.00L284.34 108.00L284.34 118.35M289.75 122.40L289.75 119.47L291.15 119.47L291.15 122.40M288.36 122.40L288.36 118.65L290.45 118.65L290.45 119.47M292.55 122.40L292.55 119.78L293.95 119.78L293.95 122.40M289.41 118.65L289.41 117.69L293.25 117.69L293.25 119.78M291.33 117.69L291.33 116.89L295.35 116.89L295.35 122.40M296.75 122.40L296.75 119.71L298.14 119.71L298.14 122.40M299.54 122.40L299.54 119.29L300.94 119.29L300.94 122.40M302.34 122.40L302.34 119.13L303.74 119.13L303.74 122.40M300.24 119.29L300.24 117.76L303.04 117.76L303.04 119.13M297.44 119.71L297.44 116.96L301.64 116.96L301.64 117.76M293.34 116.89L293.34 109.00L299.54 109.00L299.54 116.96M305.13 122.40L305.13 119.08L306.53 119.08L306.53 122.40M310.73 122.40L310.73 119.74L312.12 119.74L312.12 122.40M309.33 122.40L309.33 118.59L311.43 118.59L311.43 119.74M307.93 122.40L307.93 117.79L310.38 117.79L310.38 118.59M309.15 117.79L309.15 116.68L313.52 116.68L313.52 122.40M314.92 122.40L314.92 119.69L316.32 119.69L316.32 122.40M311.34 116.68L311.34 114.03L315.62 114.03L315.62 119.69M305.83 119.08L305.83 113.13L313.48 113.13L313.48 114.03M320.51 122.40L320.51 119.35L321.91 119.35L321.91 122.40M319.11 122.40L319.11 118.10L321.21 118.10L321.21 119.35M320.16 118.10L320.16 117.30L323.31 117.30L323.31 122.40M317.72 122.40L317.72 116.49L321.74 116.49L321.74 117.30M309.66 113.13L309.66 112.33L319.73 112.33L319.73 116.49M324.71 122.40L324.71 118.94L326.10 118.94L326.10 122.40M327.50 122.40L327.50 119.59L328.90 119.59L328.90 122.40M325.41 118.94L325.41 117.64L328.20 117.64L328.20 119.59M314.69 112.33L314.69 108.50L326.80 108.50L326.80 117.64M296.44 109.00L296.44 105.30L320.75 105.30L320.75 108.50M281.80 108.00L281.80 102.30L308.59 102.30L308.59 105.30M273.68 105.00L273.68 95.30L295.20 95.30L295.20 102.30M352.67 122.40L352.67 119.56L354.07 119.56L354.07 122.40M351.27 122.40L351.27 118.27L353.37 118.27L353.37 119.56M356.86 122.40L356.86 119.83L358.26 119.83L358.26 122.40M357.56 119.83L357.56 119.03L359.66 119.03L359.66 122.40M355.46 122.40L355.46 118.23L358.61 118.23L358.61 119.03M362.45 122.40L362.45 119.57L363.85 119.57L363.85 122.40M361.06 122.40L361.06 118.77L363.15 118.77L363.15 119.57M362.11 118.77L362.11 116.63L365.25 116.63L365.25 122.40M357.04 118.23L357.04 115.53L363.68 115.53L363.68 116.63M352.32 118.27L352.32 113.44L360.36 113.44L360.36 115.53M368.05 122.40L368.05 119.50L369.45 119.50L369.45 122.40M366.65 122.40L366.65 118.70L368.75 118.70L368.75 119.50M372.24 122.40L372.24 119.87L373.64 119.87L373.64 122.40M370.84 122.40L370.84 119.07L372.94 119.07L372.94 119.87M367.70 118.70L367.70 115.06L371.89 115.06L371.89 119.07M356.34 113.44L356.34 109.00L369.79 109.00L369.79 115.06M376.44 122.40L376.44 119.58L377.83 119.58L377.83 122.40M379.23 122.40L379.23 119.74L380.63 119.74L380.63 122.40M379.93 119.74L379.93 118.94L382.03 118.94L382.03 122.40M377.13 119.58L377.13 118.14L380.98 118.14L380.98 118.94M375.04 122.40L375.04 117.34L379.06 117.34L379.06 118.14M383.43 122.40L383.43 119.92L384.82 119.92L384.82 122.40M387.62 122.40L387.62 119.67L389.02 119.67L389.02 122.40M386.22 122.40L386.22 118.81L388.32 118.81L388.32 119.67M387.27 118.81L387.27 117.48L390.42 117.48L390.42 122.40M384.12 119.92L384.12 116.68L388.84 116.68L388.84 117.48M377.05 117.34L377.05 113.41L386.48 113.41L386.48 116.68M391.81 122.40L391.81 119.18L393.21 119.18L393.21 122.40M394.61 122.40L394.61 118.86L396.01 118.86L396.01 122.40M400.20 122.40L400.20 118.94L401.60 118.94L401.60 122.40M400.90 118.94L400.90 118.13L403.00 118.13L403.00 122.40M398.80 122.40L398.80 117.33L401.95 117.33L401.95 118.13M397.41 122.40L397.41 116.16L400.38 116.16L400.38 117.33M395.31 118.86L395.31 115.23L398.89 115.23L398.89 116.16M397.10 115.23L397.10 114.40L404.40 114.40L404.40 122.40M392.51 119.18L392.51 113.60L400.75 113.60L400.75 114.40M381.77 113.41L381.77 108.00L396.63 108.00L396.63 113.60M363.07 109.00L363.07 104.60L389.20 104.60L389.20 108.00M405.80 122.40L405.80 119.63L407.19 119.63L407.19 122.40M408.59 122.40L408.59 119.23L409.99 119.23L409.99 122.40M406.49 119.63L406.49 118.43L409.29 118.43L409.29 119.23M407.89 118.43L407.89 115.63L411.39 115.63L411.39 122.40M412.79 122.40L412.79 119.34L414.18 119.34L414.18 122.40M416.98 122.40L416.98 120.20L418.38 120.20L418.38 122.40M417.68 120.20L417.68 119.40L419.78 119.40L419.78 122.40M418.73 119.40L418.73 118.60L421.17 118.60L421.17 122.40M415.58 122.40L415.58 117.80L419.95 117.80L419.95 118.60M413.48 119.34L413.48 115.00L417.77 115.00L417.77 117.80M409.64 115.63L409.64 112.69L415.63 112.69L415.63 115.00M425.37 122.40L425.37 119.94L426.77 119.94L426.77 122.40M423.97 122.40L423.97 119.14L426.07 119.14L426.07 119.94M425.02 119.14L425.02 117.55L428.16 117.55L428.16 122.40M422.57 122.40L422.57 116.20L426.59 116.20L426.59 117.55M429.56 122.40L429.56 119.59L430.96 119.59L430.96 122.40M424.58 116.20L424.58 115.40L430.26 115.40L430.26 119.59M412.63 112.69L412.63 111.00L427.42 111.00L427.42 115.40M432.36 122.40L432.36 119.50L433.76 119.50L433.76 122.40M433.06 119.50L433.06 117.98L435.15 117.98L435.15 122.40M436.55 122.40L436.55 118.85L437.95 118.85L437.95 122.40M434.11 117.98L434.11 116.52L437.25 116.52L437.25 118.85M442.15 122.40L442.15 119.89L443.54 119.89L443.54 122.40M440.75 122.40L440.75 118.50L442.84 118.50L442.84 119.89M439.35 122.40L439.35 117.36L441.80 117.36L441.80 118.50M435.68 116.52L435.68 110.00L440.57 110.00L440.57 117.36M444.94 122.40L444.94 118.91L446.34 118.91L446.34 122.40M447.74 122.40L447.74 119.82L449.14 119.82L449.14 122.40M445.64 118.91L445.64 116.50L448.44 116.50L448.44 119.82M450.53 122.40L450.53 119.08L451.93 119.08L451.93 122.40M453.33 122.40L453.33 119.38L454.73 119.38L454.73 122.40M456.13 122.40L456.13 118.94L457.52 118.94L457.52 122.40M454.03 119.38L454.03 117.00L456.82 117.00L456.82 118.94M458.92 122.40L458.92 118.99L460.32 118.99L460.32 122.40M463.12 122.40L463.12 119.11L464.51 119.11L464.51 122.40M461.72 122.40L461.72 118.31L463.82 118.31L463.82 119.11M459.62 118.99L459.62 115.84L462.77 115.84L462.77 118.31M455.43 117.00L455.43 115.04L461.19 115.04L461.19 115.84M451.23 119.08L451.23 113.86L458.31 113.86L458.31 115.04M465.91 122.40L465.91 119.72L467.31 119.72L467.31 122.40M470.11 122.40L470.11 118.95L471.50 118.95L471.50 122.40M468.71 122.40L468.71 117.74L470.81 117.74L470.81 118.95M466.61 119.72L466.61 116.54L469.76 116.54L469.76 117.74M472.90 122.40L472.90 118.86L474.30 118.86L474.30 122.40M468.18 116.54L468.18 115.11L473.60 115.11L473.60 118.86M454.77 113.86L454.77 112.64L470.89 112.64L470.89 115.11M447.04 116.50L447.04 109.00L462.83 109.00L462.83 112.64M438.13 110.00L438.13 107.40L454.94 107.40L454.94 109.00M420.03 111.00L420.03 103.40L446.53 103.40L446.53 107.40M330.30 122.40L330.30 119.66L331.70 119.66L331.70 122.40M331.00 119.66L331.00 118.35L333.10 118.35L333.10 122.40M335.89 122.40L335.89 119.76L337.29 119.76L337.29 122.40M334.49 122.40L334.49 118.06L336.59 118.06L336.59 119.76M335.54 118.06L335.54 117.26L338.69 117.26L338.69 122.40M332.05 118.35L332.05 113.64L337.11 113.64L337.11 117.26M341.48 122.40L341.48 119.14L342.88 119.14L342.88 122.40M340.09 122.40L340.09 118.34L342.18 118.34L342.18 119.14M345.68 122.40L345.68 119.93L347.08 119.93L347.08 122.40M346.38 119.93L346.38 119.13L348.47 119.13L348.47 122.40M344.28 122.40L344.28 118.33L347.43 118.33L347.43 119.13M345.85 118.33L345.85 117.53L349.87 117.53L349.87 122.40M341.13 118.34L341.13 116.19L347.86 116.19L347.86 117.53M334.58 113.64L334.58 108.20L344.50 108.20L344.50 116.19M376.13 104.60L376.13 94.50L433.28 94.50L433.28 103.40M339.54 108.20L339.54 93.70L404.71 93.70L404.71 94.50M284.44 95.30L284.44 72.00L372.12 72.00L372.12 93.70M171.22 80.50L171.22 40.00L328.28 40.00L328.28 72.00" stroke="#000" stroke-width="1.2" fill="none" stroke-linecap="square"/>
<text x="-1.30" y="629.40" font-size="52" font-weight="bold" text-anchor="start" fill="#000" >b</text>
<text x="253.40" y="622.50" font-size="20" font-weight="bold" text-anchor="middle" fill="#000" >Basis Matrix</text>
<rect x="195.00" y="668.00" width="59.60" height="22.92" fill="#ef6b35" />
<rect x="253.60" y="668.00" width="58.20" height="22.92" fill="#ea9848" />
<text x="320.80" y="684.66" font-size="12.7" font-weight="normal" text-anchor="start" fill="#111" >wbc</text>
<rect x="195.00" y="689.92" width="59.60" height="22.92" fill="#ee773a" />
<rect x="253.60" y="689.92" width="58.20" height="22.92" fill="#ec9246" />
<text x="320.80" y="706.58" font-size="12.7" font-weight="normal" text-anchor="start" fill="#111" >pt</text>
<rect x="195.00" y="711.84" width="59.60" height="22.92" fill="#f06332" />
<rect x="253.60" y="711.84" width="58.20" height="22.92" fill="#ea9e4a" />
<text x="320.80" y="728.50" font-size="12.7" font-weight="normal" text-anchor="start" fill="#111" >mch</text>
<rect x="195.00" y="733.76" width="59.60" height="22.92" fill="#f5472a" />
<rect x="253.60" y="733.76" width="58.20" height="22.92" fill="#e9b153" />
<text x="320.80" y="750.42" font-size="12.7" font-weight="normal" text-anchor="start" fill="#111" >rdw</text>
<rect x="195.00" y="755.68" width="59.60" height="22.92" fill="#ee7e3e" />
<rect x="253.60" y="755.68" width="58.20" height="22.92" fill="#ed8942" />
<text x="320.80" y="772.34" font-size="12.7" font-weight="normal" text-anchor="start" fill="#111" >heart_rate</text>
<rect x="195.00" y="777.60" width="59.60" height="22.92" fill="#ee7e3e" />
<rect x="253.60" y="777.60" width="58.20" height="22.92" fill="#ed8942" />
<text x="320.80" y="794.26" font-size="12.7" font-weight="normal" text-anchor="start" fill="#111" >mcv</text>
<rect x="195.00" y="799.52" width="59.60" height="22.92" fill="#ef6b35" />
<rect x="253.60" y="799.52" width="58.20" height="22.92" fill="#ea9848" />
<text x="320.80" y="816.18" font-size="12.7" font-weight="normal" text-anchor="start" fill="#111" >Magnesium</text>
<rect x="195.00" y="821.44" width="59.60" height="22.92" fill="#cc1f26" />
<rect x="253.60" y="821.44" width="58.20" height="22.92" fill="#efe690" />
<text x="320.80" y="838.10" font-size="12.7" font-weight="normal" text-anchor="start" fill="#111" >minute_volume</text>
<rect x="195.00" y="843.36" width="59.60" height="22.92" fill="#cc1f26" />
<rect x="253.60" y="843.36" width="58.20" height="22.92" fill="#efe690" />
<text x="320.80" y="860.02" font-size="12.7" font-weight="normal" text-anchor="start" fill="#111" >resp_rate</text>
<rect x="195.00" y="865.28" width="59.60" height="22.92" fill="#cc1f26" />
<rect x="253.60" y="865.28" width="58.20" height="22.92" fill="#efe690" />
<text x="320.80" y="881.94" font-size="12.7" font-weight="normal" text-anchor="start" fill="#111" >peep</text>
<rect x="195.00" y="887.20" width="59.60" height="22.92" fill="#e62822" />
<rect x="253.60" y="887.20" width="58.20" height="22.92" fill="#ebd272" />
<text x="320.80" y="903.86" font-size="12.7" font-weight="normal" text-anchor="start" fill="#111" >fio2</text>
<rect x="195.00" y="909.12" width="59.60" height="22.92" fill="#a0162a" />
<rect x="253.60" y="909.12" width="58.20" height="22.92" fill="#f2f2ac" />
<text x="320.80" y="925.78" font-size="12.7" font-weight="normal" text-anchor="start" fill="#111" >aniongap</text>
<rect x="195.00" y="931.04" width="59.60" height="22.92" fill="#a5182a" />
<rect x="253.60" y="931.04" width="58.20" height="22.92" fill="#f2f0a8" />
<text x="320.80" y="947.70" font-size="12.7" font-weight="normal" text-anchor="start" fill="#111" >respiratory_rate_total</text>
<rect x="195.00" y="952.96" width="59.60" height="22.92" fill="#e62822" />
<rect x="253.60" y="952.96" width="58.20" height="22.92" fill="#ebd272" />
<text x="320.80" y="969.62" font-size="12.7" font-weight="normal" text-anchor="start" fill="#111" >bun</text>
<rect x="195.00" y="974.88" width="59.60" height="22.92" fill="#d42226" />
<rect x="253.60" y="974.88" width="58.20" height="22.92" fill="#eee088" />
<text x="320.80" y="991.54" font-size="12.7" font-weight="normal" text-anchor="start" fill="#111" >ptt</text>
<rect x="195.00" y="996.80" width="59.60" height="22.92" fill="#f03a26" />
<rect x="253.60" y="996.80" width="58.20" height="22.92" fill="#e9be5d" />
<text x="320.80" y="1013.46" font-size="12.7" font-weight="normal" text-anchor="start" fill="#111" >Phosphate</text>
<rect x="195.00" y="1018.72" width="59.60" height="22.92" fill="#cc1f26" />
<rect x="253.60" y="1018.72" width="58.20" height="22.92" fill="#efe690" />
<text x="320.80" y="1035.38" font-size="12.7" font-weight="normal" text-anchor="start" fill="#111" >inr</text>
<rect x="195.00" y="1040.64" width="59.60" height="22.92" fill="#c81e26" />
<rect x="253.60" y="1040.64" width="58.20" height="22.92" fill="#efe894" />
<text x="320.80" y="1057.30" font-size="12.7" font-weight="normal" text-anchor="start" fill="#111" >lactate</text>
<rect x="195.00" y="1062.56" width="59.60" height="22.92" fill="#db2424" />
<rect x="253.60" y="1062.56" width="58.20" height="22.92" fill="#edda7f" />
<text x="320.80" y="1079.22" font-size="12.7" font-weight="normal" text-anchor="start" fill="#111" >bilirubin_total</text>
<rect x="195.00" y="1084.48" width="59.60" height="22.92" fill="#80102a" />
<rect x="253.60" y="1084.48" width="58.20" height="22.92" fill="#f3f7c4" />
<text x="320.80" y="1101.14" font-size="12.7" font-weight="normal" text-anchor="start" fill="#111" >creatinine</text>
<rect x="195.00" y="1106.40" width="59.60" height="22.92" fill="#80102a" />
<rect x="253.60" y="1106.40" width="58.20" height="22.92" fill="#f3f7c4" />
<text x="320.80" y="1123.06" font-size="12.7" font-weight="normal" text-anchor="start" fill="#111" >norepinephrine_equivalent_dose</text>
<rect x="195.00" y="1128.32" width="59.60" height="22.92" fill="#ec9045" />
<rect x="253.60" y="1128.32" width="58.20" height="22.92" fill="#ee793b" />
<text x="320.80" y="1144.98" font-size="12.7" font-weight="normal" text-anchor="start" fill="#111" >antibiotic</text>
<rect x="195.00" y="1150.24" width="59.60" height="22.92" fill="#ea9848" />
<rect x="253.60" y="1150.24" width="58.20" height="22.92" fill="#ef6b35" />
<text x="320.80" y="1166.90" font-size="12.7" font-weight="normal" text-anchor="start" fill="#111" >calcium</text>
<rect x="195.00" y="1172.16" width="59.60" height="22.92" fill="#ec9246" />
<rect x="253.60" y="1172.16" width="58.20" height="22.92" fill="#ee773a" />
<text x="320.80" y="1188.82" font-size="12.7" font-weight="normal" text-anchor="start" fill="#111" >alt</text>
<rect x="195.00" y="1194.08" width="59.60" height="22.92" fill="#ed8942" />
<rect x="253.60" y="1194.08" width="58.20" height="22.92" fill="#ee7e3e" />
<text x="320.80" y="1210.74" font-size="12.7" font-weight="normal" text-anchor="start" fill="#111" >ast</text>
<rect x="195.00" y="1216.00" width="59.60" height="22.92" fill="#ef6b35" />
<rect x="253.60" y="1216.00" width="58.20" height="22.92" fill="#ea9848" />
<text x="320.80" y="1232.66" font-size="12.7" font-weight="normal" text-anchor="start" fill="#111" >potassium</text>
<rect x="195.00" y="1237.92" width="59.60" height="22.92" fill="#f3582e" />
<rect x="253.60" y="1237.92" width="58.20" height="22.92" fill="#e9a54d" />
<text x="320.80" y="1254.58" font-size="12.7" font-weight="normal" text-anchor="start" fill="#111" >bacterial_infections</text>
<rect x="195.00" y="1259.84" width="59.60" height="22.92" fill="#f3582e" />
<rect x="253.60" y="1259.84" width="58.20" height="22.92" fill="#e9a54d" />
<text x="320.80" y="1276.50" font-size="12.7" font-weight="normal" text-anchor="start" fill="#111" >alp</text>
<rect x="195.00" y="1281.76" width="59.60" height="22.92" fill="#ec9246" />
<rect x="253.60" y="1281.76" width="58.20" height="22.92" fill="#ee773a" />
<text x="320.80" y="1298.42" font-size="12.7" font-weight="normal" text-anchor="start" fill="#111" >gender</text>
<rect x="195.00" y="1303.68" width="59.60" height="22.92" fill="#e9a54d" />
<rect x="253.60" y="1303.68" width="58.20" height="22.92" fill="#f3582e" />
<text x="320.80" y="1320.34" font-size="12.7" font-weight="normal" text-anchor="start" fill="#111" >age</text>
<rect x="195.00" y="1325.60" width="59.60" height="22.92" fill="#e9b153" />
<rect x="253.60" y="1325.60" width="58.20" height="22.92" fill="#f5472a" />
<text x="320.80" y="1342.26" font-size="12.7" font-weight="normal" text-anchor="start" fill="#111" >hemoglobin</text>
<rect x="195.00" y="1347.52" width="59.60" height="22.92" fill="#e9a54d" />
<rect x="253.60" y="1347.52" width="58.20" height="22.92" fill="#f3582e" />
<text x="320.80" y="1364.18" font-size="12.7" font-weight="normal" text-anchor="start" fill="#111" >hematocrit</text>
<rect x="195.00" y="1369.44" width="59.60" height="22.92" fill="#e9ab50" />
<rect x="253.60" y="1369.44" width="58.20" height="22.92" fill="#f44e2b" />
<text x="320.80" y="1386.10" font-size="12.7" font-weight="normal" text-anchor="start" fill="#111" >glucose</text>
<rect x="195.00" y="1391.36" width="59.60" height="22.92" fill="#e9c462" />
<rect x="253.60" y="1391.36" width="58.20" height="22.92" fill="#ec3324" />
<text x="320.80" y="1408.02" font-size="12.7" font-weight="normal" text-anchor="start" fill="#111" >sbp</text>
<rect x="195.00" y="1413.28" width="59.60" height="22.92" fill="#e9c462" />
<rect x="253.60" y="1413.28" width="58.20" height="22.92" fill="#ec3324" />
<text x="320.80" y="1429.94" font-size="12.7" font-weight="normal" text-anchor="start" fill="#111" >temperature</text>
<rect x="195.00" y="1435.20" width="59.60" height="22.92" fill="#ecd87b" />
<rect x="253.60" y="1435.20" width="58.20" height="22.92" fill="#df2624" />
<text x="320.80" y="1451.86" font-size="12.7" font-weight="normal" text-anchor="start" fill="#111" >sodium</text>
<rect x="195.00" y="1457.12" width="59.60" height="22.92" fill="#eac967" />
<rect x="253.60" y="1457.12" width="58.20" height="22.92" fill="#ea2f24" />
<text x="320.80" y="1473.78" font-size="12.7" font-weight="normal" text-anchor="start" fill="#111" >pco2</text>
<rect x="195.00" y="1479.04" width="59.60" height="22.92" fill="#eee088" />
<rect x="253.60" y="1479.04" width="58.20" height="22.92" fill="#d42226" />
<text x="320.80" y="1495.70" font-size="12.7" font-weight="normal" text-anchor="start" fill="#111" >dbp</text>
<rect x="195.00" y="1500.96" width="59.60" height="22.92" fill="#eee38c" />
<rect x="253.60" y="1500.96" width="58.20" height="22.92" fill="#d02126" />
<text x="320.80" y="1517.62" font-size="12.7" font-weight="normal" text-anchor="start" fill="#111" >map</text>
<rect x="195.00" y="1522.88" width="59.60" height="22.92" fill="#f3f4b8" />
<rect x="253.60" y="1522.88" width="58.20" height="22.92" fill="#90122a" />
<text x="320.80" y="1539.54" font-size="12.7" font-weight="normal" text-anchor="start" fill="#111" >baseexcess</text>
<rect x="195.00" y="1544.80" width="59.60" height="22.92" fill="#f3f7c4" />
<rect x="253.60" y="1544.80" width="58.20" height="22.92" fill="#80102a" />
<text x="320.80" y="1561.46" font-size="12.7" font-weight="normal" text-anchor="start" fill="#111" >bicarbonate</text>
<rect x="195.00" y="1566.72" width="59.60" height="22.92" fill="#f3f7c4" />
<rect x="253.60" y="1566.72" width="58.20" height="22.92" fill="#80102a" />
<text x="320.80" y="1583.38" font-size="12.7" font-weight="normal" text-anchor="start" fill="#111" >ph</text>
<rect x="195.00" y="1588.64" width="59.60" height="22.92" fill="#e9a84e" />
<rect x="253.60" y="1588.64" width="58.20" height="22.92" fill="#f4522c" />
<text x="320.80" y="1605.30" font-size="12.7" font-weight="normal" text-anchor="start" fill="#111" >tidal_volume_observed</text>
<rect x="195.00" y="1610.56" width="59.60" height="22.92" fill="#e9ab50" />
<rect x="253.60" y="1610.56" width="58.20" height="22.92" fill="#f44e2b" />
<text x="320.80" y="1627.22" font-size="12.7" font-weight="normal" text-anchor="start" fill="#111" >mchc</text>
<rect x="195.00" y="1632.48" width="59.60" height="22.92" fill="#e9a84e" />
<rect x="253.60" y="1632.48" width="58.20" height="22.92" fill="#f4522c" />
<text x="320.80" y="1649.14" font-size="12.7" font-weight="normal" text-anchor="start" fill="#111" >platelet</text>
<rect x="195.00" y="1654.40" width="59.60" height="22.92" fill="#e9a54d" />
<rect x="253.60" y="1654.40" width="58.20" height="22.92" fill="#f3582e" />
<text x="320.80" y="1671.06" font-size="12.7" font-weight="normal" text-anchor="start" fill="#111" >po2</text>
<rect x="195.00" y="1676.32" width="59.60" height="22.92" fill="#e9a84e" />
<rect x="253.60" y="1676.32" width="58.20" height="22.92" fill="#f4522c" />
<text x="320.80" y="1692.98" font-size="12.7" font-weight="normal" text-anchor="start" fill="#111" >spo2</text>
<rect x="195.00" y="1698.24" width="59.60" height="22.92" fill="#eee38c" />
<rect x="253.60" y="1698.24" width="58.20" height="22.92" fill="#d02126" />
<text x="320.80" y="1714.90" font-size="12.7" font-weight="normal" text-anchor="start" fill="#111" >rbc</text>
<rect x="195.00" y="1720.16" width="59.60" height="22.92" fill="#eee088" />
<rect x="253.60" y="1720.16" width="58.20" height="22.92" fill="#d42226" />
<text x="320.80" y="1736.82" font-size="12.7" font-weight="normal" text-anchor="start" fill="#111" >chloride</text>
<rect x="195.00" y="1742.08" width="59.60" height="21.92" fill="#f3f7c4" />
<rect x="253.60" y="1742.08" width="58.20" height="21.92" fill="#80102a" />
<text x="320.80" y="1758.74" font-size="12.7" font-weight="normal" text-anchor="start" fill="#111" >totalco2</text>
<rect x="195.00" y="651.20" width="59.60" height="12.60" fill="#9f9efb" />
<rect x="253.60" y="651.20" width="58.20" height="12.60" fill="#f57ff9" />
<rect x="178.70" y="668.00" width="12.30" height="22.92" fill="#9f9efb" />
<rect x="178.70" y="689.92" width="12.30" height="22.92" fill="#9f9efb" />
<rect x="178.70" y="711.84" width="12.30" height="22.92" fill="#9f9efb" />
<rect x="178.70" y="733.76" width="12.30" height="22.92" fill="#9f9efb" />
<rect x="178.70" y="755.68" width="12.30" height="22.92" fill="#9f9efb" />
<rect x="178.70" y="777.60" width="12.30" height="22.92" fill="#9f9efb" />
<rect x="178.70" y="799.52" width="12.30" height="22.92" fill="#9f9efb" />
<rect x="178.70" y="821.44" width="12.30" height="22.92" fill="#9f9efb" />
<rect x="178.70" y="843.36" width="12.30" height="22.92" fill="#9f9efb" />
<rect x="178.70" y="865.28" width="12.30" height="22.92" fill="#9f9efb" />
<rect x="178.70" y="887.20" width="12.30" height="22.92" fill="#9f9efb" />
<rect x="178.70" y="909.12" width="12.30" height="22.92" fill="#9f9efb" />
<rect x="178.70" y="931.04" width="12.30" height="22.92" fill="#9f9efb" />
<rect x="178.70" y="952.96" width="12.30" height="22.92" fill="#9f9efb" />
<rect x="178.70" y="974.88" width="12.30" height="22.92" fill="#9f9efb" />
<rect x="178.70" y="996.80" width="12.30" height="22.92" fill="#9f9efb" />
<rect x="178.70" y="1018.72" width="12.30" height="22.92" fill="#9f9efb" />
<rect x="178.70" y="1040.64" width="12.30" height="22.92" fill="#9f9efb" />
<rect x="178.70" y="1062.56" width="12.30" height="22.92" fill="#9f9efb" />
<rect x="178.70" y="1084.48" width="12.30" height="22.92" fill="#9f9efb" />
<rect x="178.70" y="1106.40" width="12.30" height="22.92" fill="#9f9efb" />
<rect x="178.70" y="1128.32" width="12.30" height="22.92" fill="#f57ff9" />
<rect x="178.70" y="1150.24" width="12.30" height="22.92" fill="#f57ff9" />
<rect x="178.70" y="1172.16" width="12.30" height="22.92" fill="#f57ff9" />
<rect x="178.70" y="1194.08" width="12.30" height="22.92" fill="#f57ff9" />
<rect x="178.70" y="1216.00" width="12.30" height="22.92" fill="#9f9efb" />
<rect x="178.70" y="1237.92" width="12.30" height="22.92" fill="#9f9efb" />
<rect x="178.70" y="1259.84" width="12.30" height="22.92" fill="#9f9efb" />
<rect x="178.70" y="1281.76" width="12.30" height="22.92" fill="#f57ff9" />
<rect x="178.70" y="1303.68" width="12.30" height="22.92" fill="#f57ff9" />
<rect x="178.70" y="1325.60" width="12.30" height="22.92" fill="#f57ff9" />
<rect x="178.70" y="1347.52" width="12.30" height="22.92" fill="#f57ff9" />
<rect x="178.70" y="1369.44" width="12.30" height="22.92" fill="#f57ff9" />
<rect x="178.70" y="1391.36" width="12.30" height="22.92" fill="#f57ff9" />
<rect x="178.70" y="1413.28" width="12.30" height="22.92" fill="#f57ff9" />
<rect x="178.70" y="1435.20" width="12.30" height="22.92" fill="#f57ff9" />
<rect x="178.70" y="1457.12" width="12.30" height="22.92" fill="#f57ff9" />
<rect x="178.70" y="1479.04" width="12.30" height="22.92" fill="#f57ff9" />
<rect x="178.70" y="1500.96" width="12.30" height="22.92" fill="#f57ff9" />
<rect x="178.70" y="1522.88" width="12.30" height="22.92" fill="#f57ff9" />
<rect x="178.70" y="1544.80" width="12.30" height="22.92" fill="#f57ff9" />
<rect x="178.70" y="1566.72" width="12.30" height="22.92" fill="#f57ff9" />
<rect x="178.70" y="1588.64" width="12.30" height="22.92" fill="#f57ff9" />
<rect x="178.70" y="1610.56" width="12.30" height="22.92" fill="#f57ff9" />
<rect x="178.70" y="1632.48" width="12.30" height="22.92" fill="#f57ff9" />
<rect x="178.70" y="1654.40" width="12.30" height="22.92" fill="#f57ff9" />
<rect x="178.70" y="1676.32" width="12.30" height="22.92" fill="#f57ff9" />
<rect x="178.70" y="1698.24" width="12.30" height="22.92" fill="#f57ff9" />
<rect x="178.70" y="1720.16" width="12.30" height="22.92" fill="#f57ff9" />
<rect x="178.70" y="1742.08" width="12.30" height="21.92" fill="#f57ff9" />
<text x="224.00" y="1783.00" font-size="15.5" font-weight="normal" text-anchor="middle" fill="#000" >1</text>
<text x="282.40" y="1783.00" font-size="15.5" font-weight="normal" text-anchor="middle" fill="#000" >2</text>
<rect x="550.00" y="668.00" width="17.00" height="6.00" fill="#7d0f2a" />
<rect x="550.00" y="673.00" width="17.00" height="6.00" fill="#80102a" />
<rect x="550.00" y="678.00" width="17.00" height="6.00" fill="#88112a" />
<rect x="550.00" y="683.00" width="17.00" height="6.00" fill="#90122a" />
<rect x="550.00" y="688.00" width="17.00" height="6.00" fill="#9a152a" />
<rect x="550.00" y="693.00" width="17.00" height="6.00" fill="#a5182a" />
<rect x="550.00" y="698.00" width="17.00" height="6.00" fill="#b11a29" />
<rect x="550.00" y="703.00" width="17.00" height="6.00" fill="#bc1c27" />
<rect x="550.00" y="708.00" width="17.00" height="6.00" fill="#c81e26" />
<rect x="550.00" y="713.00" width="17.00" height="6.00" fill="#d02126" />
<rect x="550.00" y="718.00" width="17.00" height="6.00" fill="#d82325" />
<rect x="550.00" y="723.00" width="17.00" height="6.00" fill="#df2624" />
<rect x="550.00" y="728.00" width="17.00" height="6.00" fill="#e62822" />
<rect x="550.00" y="733.00" width="17.00" height="6.00" fill="#ea2f24" />
<rect x="550.00" y="738.00" width="17.00" height="6.00" fill="#ee3625" />
<rect x="550.00" y="743.00" width="17.00" height="6.00" fill="#f13d27" />
<rect x="550.00" y="748.00" width="17.00" height="6.00" fill="#f44429" />
<rect x="550.00" y="753.00" width="17.00" height="6.00" fill="#f54b2b" />
<rect x="550.00" y="758.00" width="17.00" height="6.00" fill="#f4522c" />
<rect x="550.00" y="763.00" width="17.00" height="6.00" fill="#f15d30" />
<rect x="550.00" y="768.00" width="17.00" height="6.00" fill="#f06734" />
<rect x="550.00" y="773.00" width="17.00" height="6.00" fill="#ef6f37" />
<rect x="550.00" y="778.00" width="17.00" height="6.00" fill="#ee773a" />
<rect x="550.00" y="783.00" width="17.00" height="6.00" fill="#ee7b3c" />
<rect x="550.00" y="788.00" width="17.00" height="6.00" fill="#ee803f" />
<rect x="550.00" y="793.00" width="17.00" height="6.00" fill="#ee8641" />
<rect x="550.00" y="798.00" width="17.00" height="6.00" fill="#ec8d44" />
<rect x="550.00" y="803.00" width="17.00" height="6.00" fill="#ec9246" />
<rect x="550.00" y="808.00" width="17.00" height="6.00" fill="#ea9647" />
<rect x="550.00" y="813.00" width="17.00" height="6.00" fill="#ea9b49" />
<rect x="550.00" y="818.00" width="17.00" height="6.00" fill="#e9a24c" />
<rect x="550.00" y="823.00" width="17.00" height="6.00" fill="#e9a84e" />
<rect x="550.00" y="828.00" width="17.00" height="6.00" fill="#e9ae52" />
<rect x="550.00" y="833.00" width="17.00" height="6.00" fill="#e9b455" />
<rect x="550.00" y="838.00" width="17.00" height="6.00" fill="#e9ba5a" />
<rect x="550.00" y="843.00" width="17.00" height="6.00" fill="#e9c15f" />
<rect x="550.00" y="848.00" width="17.00" height="6.00" fill="#eac967" />
<rect x="550.00" y="853.00" width="17.00" height="6.00" fill="#ebd272" />
<rect x="550.00" y="858.00" width="17.00" height="6.00" fill="#ecd87b" />
<rect x="550.00" y="863.00" width="17.00" height="6.00" fill="#eddd84" />
<rect x="550.00" y="868.00" width="17.00" height="6.00" fill="#eee38c" />
<rect x="550.00" y="873.00" width="17.00" height="6.00" fill="#efe894" />
<rect x="550.00" y="878.00" width="17.00" height="6.00" fill="#f0ea9a" />
<rect x="550.00" y="883.00" width="17.00" height="6.00" fill="#f1eea2" />
<rect x="550.00" y="888.00" width="17.00" height="6.00" fill="#f2f0a8" />
<rect x="550.00" y="893.00" width="17.00" height="6.00" fill="#f2f3b0" />
<rect x="550.00" y="898.00" width="17.00" height="6.00" fill="#f3f4b8" />
<rect x="550.00" y="903.00" width="17.00" height="6.00" fill="#f3f6c0" />
<rect x="550.00" y="908.00" width="17.00" height="6.00" fill="#f3f7c4" />
<rect x="550.00" y="913.00" width="17.00" height="5.00" fill="#f3f8c8" />
<text x="570.00" y="674.60" font-size="16.6" font-weight="normal" text-anchor="start" fill="#000" >1</text>
<text x="570.00" y="724.60" font-size="16.6" font-weight="normal" text-anchor="start" fill="#000" >0.8</text>
<text x="570.00" y="774.60" font-size="16.6" font-weight="normal" text-anchor="start" fill="#000" >0.6</text>
<text x="570.00" y="824.60" font-size="16.6" font-weight="normal" text-anchor="start" fill="#000" >0.4</text>
<text x="570.00" y="874.60" font-size="16.6" font-weight="normal" text-anchor="start" fill="#000" >0.2</text>
<text x="570.00" y="924.60" font-size="16.6" font-weight="normal" text-anchor="start" fill="#000" >0</text>
<text x="632.80" y="680.80" font-size="16.5" font-weight="bold" text-anchor="start" fill="#000" >basis</text>
<rect x="632.00" y="686.70" width="12.30" height="11.70" fill="#9f9efb" />
<text x="648.30" y="699.00" font-size="16.5" font-weight="normal" text-anchor="start" fill="#000" >1</text>
<rect x="632.00" y="705.10" width="12.30" height="12.30" fill="#f57ff9" />
<text x="648.30" y="717.80" font-size="16.5" font-weight="normal" text-anchor="start" fill="#000" >2</text>
<path d="M166.40 678.96L163.00 678.96L163.00 700.88L166.40 700.88M166.40 722.80L161.10 722.80L161.10 744.72L166.40 744.72M163.00 689.92L156.40 689.92L156.40 733.76L161.10 733.76M166.40 766.64L164.90 766.64L164.90 788.56L166.40 788.56M164.90 777.60L159.60 777.60L159.60 810.48L166.40 810.48M156.40 711.84L147.80 711.84L147.80 794.04L159.60 794.04M166.40 832.40L164.90 832.40L164.90 854.32L166.40 854.32M164.90 843.36L161.70 843.36L161.70 876.24L166.40 876.24M161.70 859.80L157.90 859.80L157.90 898.16L166.40 898.16M166.40 920.08L161.70 920.08L161.70 942.00L166.40 942.00M157.90 878.98L147.40 878.98L147.40 931.04L161.70 931.04M147.80 752.94L130.40 752.94L130.40 905.01L147.40 905.01M166.40 963.92L162.60 963.92L162.60 985.84L166.40 985.84M162.60 974.88L157.90 974.88L157.90 1007.76L166.40 1007.76M166.40 1029.68L164.30 1029.68L164.30 1051.60L166.40 1051.60M164.30 1040.64L159.60 1040.64L159.60 1073.52L166.40 1073.52M157.90 991.32L153.10 991.32L153.10 1057.08L159.60 1057.08M166.40 1095.44L158.80 1095.44L158.80 1117.36L166.40 1117.36M153.10 1024.20L148.40 1024.20L148.40 1106.40L158.80 1106.40M166.40 1139.28L162.60 1139.28L162.60 1161.20L166.40 1161.20M162.60 1150.24L159.60 1150.24L159.60 1183.12L166.40 1183.12M166.40 1205.04L162.60 1205.04L162.60 1226.96L166.40 1226.96M159.60 1166.68L155.80 1166.68L155.80 1216.00L162.60 1216.00M166.40 1248.88L163.50 1248.88L163.50 1270.80L166.40 1270.80M163.50 1259.84L162.40 1259.84L162.40 1292.72L166.40 1292.72M155.80 1191.34L146.50 1191.34L146.50 1276.28L162.40 1276.28M148.40 1065.30L135.50 1065.30L135.50 1233.81L146.50 1233.81M130.40 828.98L116.00 828.98L116.00 1149.56L135.50 1149.56M166.40 1314.64L163.00 1314.64L163.00 1336.56L166.40 1336.56M166.40 1358.48L163.00 1358.48L163.00 1380.40L166.40 1380.40M163.00 1325.60L161.70 1325.60L161.70 1369.44L163.00 1369.44M161.70 1347.52L158.80 1347.52L158.80 1402.32L166.40 1402.32M166.40 1424.24L163.60 1424.24L163.60 1446.16L166.40 1446.16M163.60 1435.20L161.70 1435.20L161.70 1468.08L166.40 1468.08M158.80 1374.92L154.10 1374.92L154.10 1451.64L161.70 1451.64M166.40 1490.00L164.90 1490.00L164.90 1511.92L166.40 1511.92M164.90 1500.96L156.90 1500.96L156.90 1533.84L166.40 1533.84M166.40 1555.76L161.70 1555.76L161.70 1577.68L166.40 1577.68M156.90 1517.40L151.60 1517.40L151.60 1566.72L161.70 1566.72M154.10 1413.28L144.00 1413.28L144.00 1542.06L151.60 1542.06M166.40 1599.60L165.30 1599.60L165.30 1621.52L166.40 1621.52M165.30 1610.56L163.40 1610.56L163.40 1643.44L166.40 1643.44M163.40 1627.00L160.70 1627.00L160.70 1665.36L166.40 1665.36M160.70 1646.18L154.50 1646.18L154.50 1687.28L166.40 1687.28M166.40 1709.20L164.00 1709.20L164.00 1731.12L166.40 1731.12M154.50 1666.73L146.50 1666.73L146.50 1720.16L164.00 1720.16M144.00 1477.67L132.30 1477.67L132.30 1693.45L146.50 1693.45M132.30 1585.56L123.70 1585.56L123.70 1753.04L166.40 1753.04M116.00 989.27L83.70 989.27L83.70 1669.30L123.70 1669.30" stroke="#222" stroke-width="1.3" fill="none"/>
<text x="-0.30" y="1828.70" font-size="52" font-weight="bold" text-anchor="start" fill="#000" >c</text>
<text x="335.00" y="1822.80" font-size="20" font-weight="bold" text-anchor="middle" fill="#000" >Consistency Matrix</text>
<rect x="175.00" y="1984.20" width="145.50" height="167.80" fill="#a51729" />
<rect x="319.50" y="1984.20" width="174.70" height="167.80" fill="#353a98" />
<rect x="175.00" y="2151.00" width="145.50" height="201.60" fill="#353a98" />
<rect x="319.50" y="2151.00" width="174.70" height="201.60" fill="#a51729" />
<rect x="175.00" y="1934.00" width="145.50" height="12.90" fill="#f57ff9" />
<rect x="319.50" y="1934.00" width="174.70" height="12.90" fill="#9f9efb" />
<rect x="175.00" y="1950.90" width="145.50" height="13.10" fill="#62b9fb" />
<rect x="319.50" y="1950.90" width="174.70" height="13.10" fill="#d28bf8" />
<rect x="175.00" y="1967.90" width="319.20" height="12.40" fill="#88cfac" />
<path d="M175.3 1921.2L175.3 1839.8L320.2 1839.8L320.2 1921.2" stroke="#111" stroke-width="1.3" fill="none"/>
<line x1="175.30" y1="1921.20" x2="320.20" y2="1921.20" stroke="#3a3a3a" stroke-width="1.3"/>
<line x1="320.20" y1="1921.20" x2="494.20" y2="1921.20" stroke="#3a3a3a" stroke-width="1.3"/>
<path d="M165.8 1984.5L83.6 1984.5L83.6 2151.2L165.8 2151.2" stroke="#111" stroke-width="1.3" fill="none"/>
<line x1="165.80" y1="1984.50" x2="165.80" y2="2352.60" stroke="#666" stroke-width="1.2"/>
<line x1="502.70" y1="1984.80" x2="502.70" y2="2352.60" stroke="#888" stroke-width="1.0"/>
<rect x="175.00" y="2360.90" width="1.00" height="1.80" fill="#44405e" />
<rect x="176.00" y="2360.90" width="1.00" height="1.80" fill="#6e6a84" />
<rect x="177.00" y="2360.90" width="1.00" height="1.80" fill="#44405e" />
<rect x="178.00" y="2360.90" width="1.00" height="1.80" fill="#5a5470" />
<rect x="179.00" y="2360.90" width="1.00" height="1.80" fill="#4a4a66" />
<rect x="180.00" y="2360.90" width="1.00" height="1.80" fill="#44405e" />
<rect x="181.00" y="2360.90" width="1.00" height="1.80" fill="#44405e" />
<rect x="182.00" y="2360.90" width="1.00" height="1.80" fill="#3c3c58" />
<rect x="183.00" y="2360.90" width="1.00" height="1.80" fill="#44405e" />
<rect x="184.00" y="2360.90" width="1.00" height="1.80" fill="#5a5470" />
<rect x="185.00" y="2360.90" width="1.00" height="1.80" fill="#4a4a66" />
<rect x="186.00" y="2360.90" width="1.00" height="1.80" fill="#6e6a84" />
<rect x="187.00" y="2360.90" width="1.00" height="1.80" fill="#3c3c58" />
<rect x="188.00" y="2360.90" width="1.00" height="1.80" fill="#6e6a84" />
<rect x="189.00" y="2360.90" width="1.00" height="1.80" fill="#3c3c58" />
<rect x="190.00" y="2360.90" width="1.00" height="1.80" fill="#6e6a84" />
<rect x="191.00" y="2360.90" width="1.00" height="1.80" fill="#6e6a84" />
<rect x="192.00" y="2360.90" width="1.00" height="1.80" fill="#4a4a66" />
<rect x="193.00" y="2360.90" width="1.00" height="1.80" fill="#3c3c58" />
<rect x="194.00" y="2360.90" width="1.00" height="1.80" fill="#44405e" />
<rect x="195.00" y="2360.90" width="1.00" height="1.80" fill="#6e6a84" />
<rect x="196.00" y="2360.90" width="1.00" height="1.80" fill="#6e6a84" />
<rect x="197.00" y="2360.90" width="1.00" height="1.80" fill="#6e6a84" />
<rect x="198.00" y="2360.90" width="1.00" height="1.80" fill="#5a5470" />
<rect x="199.00" y="2360.90" width="1.00" height="1.80" fill="#4a4a66" />
<rect x="200.00" y="2360.90" width="1.00" height="1.80" fill="#6e6a84" />
<rect x="201.00" y="2360.90" width="1.00" height="1.80" fill="#6e6a84" />
<rect x="202.00" y="2360.90" width="1.00" height="1.80" fill="#4a4a66" />
<rect x="203.00" y="2360.90" width="1.00" height="1.80" fill="#3c3c58" />
<rect x="204.00" y="2360.90" width="1.00" height="1.80" fill="#3c3c58" />
<rect x="205.00" y="2360.90" width="1.00" height="1.80" fill="#44405e" />
<rect x="206.00" y="2360.90" width="1.00" height="1.80" fill="#3c3c58" />
<rect x="207.00" y="2360.90" width="1.00" height="1.80" fill="#3c3c58" />
<rect x="208.00" y="2360.90" width="1.00" height="1.80" fill="#3c3c58" />
<rect x="209.00" y="2360.90" width="1.00" height="1.80" fill="#44405e" />
<rect x="210.00" y="2360.90" width="1.00" height="1.80" fill="#5a5470" />
<rect x="211.00" y="2360.90" width="1.00" height="1.80" fill="#6e6a84" />
<rect x="212.00" y="2360.90" width="1.00" height="1.80" fill="#44405e" />
<rect x="213.00" y="2360.90" width="1.00" height="1.80" fill="#3c3c58" />
<rect x="214.00" y="2360.90" width="1.00" height="1.80" fill="#44405e" />
<rect x="215.00" y="2360.90" width="1.00" height="1.80" fill="#5a5470" />
<rect x="216.00" y="2360.90" width="1.00" height="1.80" fill="#6e6a84" />
<rect x="217.00" y="2360.90" width="1.00" height="1.80" fill="#4a4a66" />
<rect x="218.00" y="2360.90" width="1.00" height="1.80" fill="#3c3c58" />
<rect x="219.00" y="2360.90" width="1.00" height="1.80" fill="#6e6a84" />
<rect x="220.00" y="2360.90" width="1.00" height="1.80" fill="#6e6a84" />
<rect x="221.00" y="2360.90" width="1.00" height="1.80" fill="#4a4a66" />
<rect x="222.00" y="2360.90" width="1.00" height="1.80" fill="#4a4a66" />
<rect x="223.00" y="2360.90" width="1.00" height="1.80" fill="#5a5470" />
<rect x="224.00" y="2360.90" width="1.00" height="1.80" fill="#5a5470" />
<rect x="225.00" y="2360.90" width="1.00" height="1.80" fill="#6e6a84" />
<rect x="226.00" y="2360.90" width="1.00" height="1.80" fill="#4a4a66" />
<rect x="227.00" y="2360.90" width="1.00" height="1.80" fill="#4a4a66" />
<rect x="228.00" y="2360.90" width="1.00" height="1.80" fill="#5a5470" />
<rect x="229.00" y="2360.90" width="1.00" height="1.80" fill="#5a5470" />
<rect x="230.00" y="2360.90" width="1.00" height="1.80" fill="#3c3c58" />
<rect x="231.00" y="2360.90" width="1.00" height="1.80" fill="#3c3c58" />
<rect x="232.00" y="2360.90" width="1.00" height="1.80" fill="#6e6a84" />
<rect x="233.00" y="2360.90" width="1.00" height="1.80" fill="#6e6a84" />
<rect x="234.00" y="2360.90" width="1.00" height="1.80" fill="#4a4a66" />
<rect x="235.00" y="2360.90" width="1.00" height="1.80" fill="#3c3c58" />
<rect x="236.00" y="2360.90" width="1.00" height="1.80" fill="#3c3c58" />
<rect x="237.00" y="2360.90" width="1.00" height="1.80" fill="#5a5470" />
<rect x="238.00" y="2360.90" width="1.00" height="1.80" fill="#5a5470" />
<rect x="239.00" y="2360.90" width="1.00" height="1.80" fill="#44405e" />
<rect x="240.00" y="2360.90" width="1.00" height="1.80" fill="#6e6a84" />
<rect x="241.00" y="2360.90" width="1.00" height="1.80" fill="#5a5470" />
<rect x="242.00" y="2360.90" width="1.00" height="1.80" fill="#44405e" />
<rect x="243.00" y="2360.90" width="1.00" height="1.80" fill="#44405e" />
<rect x="244.00" y="2360.90" width="1.00" height="1.80" fill="#6e6a84" />
<rect x="245.00" y="2360.90" width="1.00" height="1.80" fill="#3c3c58" />
<rect x="246.00" y="2360.90" width="1.00" height="1.80" fill="#3c3c58" />
<rect x="247.00" y="2360.90" width="1.00" height="1.80" fill="#4a4a66" />
<rect x="248.00" y="2360.90" width="1.00" height="1.80" fill="#4a4a66" />
<rect x="249.00" y="2360.90" width="1.00" height="1.80" fill="#44405e" />
<rect x="250.00" y="2360.90" width="1.00" height="1.80" fill="#6e6a84" />
<rect x="251.00" y="2360.90" width="1.00" height="1.80" fill="#44405e" />
<rect x="252.00" y="2360.90" width="1.00" height="1.80" fill="#4a4a66" />
<rect x="253.00" y="2360.90" width="1.00" height="1.80" fill="#3c3c58" />
<rect x="254.00" y="2360.90" width="1.00" height="1.80" fill="#3c3c58" />
<rect x="255.00" y="2360.90" width="1.00" height="1.80" fill="#4a4a66" />
<rect x="256.00" y="2360.90" width="1.00" height="1.80" fill="#3c3c58" />
<rect x="257.00" y="2360.90" width="1.00" height="1.80" fill="#6e6a84" />
<rect x="258.00" y="2360.90" width="1.00" height="1.80" fill="#44405e" />
<rect x="259.00" y="2360.90" width="1.00" height="1.80" fill="#44405e" />
<rect x="260.00" y="2360.90" width="1.00" height="1.80" fill="#44405e" />
<rect x="261.00" y="2360.90" width="1.00" height="1.80" fill="#44405e" />
<rect x="262.00" y="2360.90" width="1.00" height="1.80" fill="#3c3c58" />
<rect x="263.00" y="2360.90" width="1.00" height="1.80" fill="#5a5470" />
<rect x="264.00" y="2360.90" width="1.00" height="1.80" fill="#6e6a84" />
<rect x="265.00" y="2360.90" width="1.00" height="1.80" fill="#4a4a66" />
<rect x="266.00" y="2360.90" width="1.00" height="1.80" fill="#3c3c58" />
<rect x="267.00" y="2360.90" width="1.00" height="1.80" fill="#6e6a84" />
<rect x="268.00" y="2360.90" width="1.00" height="1.80" fill="#44405e" />
<rect x="269.00" y="2360.90" width="1.00" height="1.80" fill="#5a5470" />
<rect x="270.00" y="2360.90" width="1.00" height="1.80" fill="#5a5470" />
<rect x="271.00" y="2360.90" width="1.00" height="1.80" fill="#6e6a84" />
<rect x="272.00" y="2360.90" width="1.00" height="1.80" fill="#4a4a66" />
<rect x="273.00" y="2360.90" width="1.00" height="1.80" fill="#44405e" />
<rect x="274.00" y="2360.90" width="1.00" height="1.80" fill="#5a5470" />
<rect x="275.00" y="2360.90" width="1.00" height="1.80" fill="#4a4a66" />
<rect x="276.00" y="2360.90" width="1.00" height="1.80" fill="#6e6a84" />
<rect x="277.00" y="2360.90" width="1.00" height="1.80" fill="#5a5470" />
<rect x="278.00" y="2360.90" width="1.00" height="1.80" fill="#3c3c58" />
<rect x="279.00" y="2360.90" width="1.00" height="1.80" fill="#6e6a84" />
<rect x="280.00" y="2360.90" width="1.00" height="1.80" fill="#3c3c58" />
<rect x="281.00" y="2360.90" width="1.00" height="1.80" fill="#5a5470" />
<rect x="282.00" y="2360.90" width="1.00" height="1.80" fill="#44405e" />
<rect x="283.00" y="2360.90" width="1.00" height="1.80" fill="#4a4a66" />
<rect x="284.00" y="2360.90" width="1.00" height="1.80" fill="#5a5470" />
<rect x="285.00" y="2360.90" width="1.00" height="1.80" fill="#44405e" />
<rect x="286.00" y="2360.90" width="1.00" height="1.80" fill="#5a5470" />
<rect x="287.00" y="2360.90" width="1.00" height="1.80" fill="#44405e" />
<rect x="288.00" y="2360.90" width="1.00" height="1.80" fill="#6e6a84" />
<rect x="289.00" y="2360.90" width="1.00" height="1.80" fill="#44405e" />
<rect x="290.00" y="2360.90" width="1.00" height="1.80" fill="#5a5470" />
<rect x="291.00" y="2360.90" width="1.00" height="1.80" fill="#6e6a84" />
<rect x="292.00" y="2360.90" width="1.00" height="1.80" fill="#6e6a84" />
<rect x="293.00" y="2360.90" width="1.00" height="1.80" fill="#3c3c58" />
<rect x="294.00" y="2360.90" width="1.00" height="1.80" fill="#6e6a84" />
<rect x="295.00" y="2360.90" width="1.00" height="1.80" fill="#6e6a84" />
<rect x="296.00" y="2360.90" width="1.00" height="1.80" fill="#5a5470" />
<rect x="297.00" y="2360.90" width="1.00" height="1.80" fill="#3c3c58" />
<rect x="298.00" y="2360.90" width="1.00" height="1.80" fill="#44405e" />
<rect x="299.00" y="2360.90" width="1.00" height="1.80" fill="#44405e" />
<rect x="300.00" y="2360.90" width="1.00" height="1.80" fill="#5a5470" />
<rect x="301.00" y="2360.90" width="1.00" height="1.80" fill="#5a5470" />
<rect x="302.00" y="2360.90" width="1.00" height="1.80" fill="#6e6a84" />
<rect x="303.00" y="2360.90" width="1.00" height="1.80" fill="#3c3c58" />
<rect x="304.00" y="2360.90" width="1.00" height="1.80" fill="#4a4a66" />
<rect x="305.00" y="2360.90" width="1.00" height="1.80" fill="#3c3c58" />
<rect x="306.00" y="2360.90" width="1.00" height="1.80" fill="#6e6a84" />
<rect x="307.00" y="2360.90" width="1.00" height="1.80" fill="#3c3c58" />
<rect x="308.00" y="2360.90" width="1.00" height="1.80" fill="#44405e" />
<rect x="319.00" y="2360.90" width="1.00" height="1.80" fill="#5a5470" />
<rect x="320.00" y="2360.90" width="1.00" height="1.80" fill="#5a5470" />
<rect x="321.00" y="2360.90" width="1.00" height="1.80" fill="#5a5470" />
<rect x="322.00" y="2360.90" width="1.00" height="1.80" fill="#5a5470" />
<rect x="323.00" y="2360.90" width="1.00" height="1.80" fill="#4a4a66" />
<rect x="324.00" y="2360.90" width="1.00" height="1.80" fill="#44405e" />
<rect x="325.00" y="2360.90" width="1.00" height="1.80" fill="#4a4a66" />
<rect x="326.00" y="2360.90" width="1.00" height="1.80" fill="#44405e" />
<rect x="327.00" y="2360.90" width="1.00" height="1.80" fill="#5a5470" />
<rect x="328.00" y="2360.90" width="1.00" height="1.80" fill="#44405e" />
<rect x="329.00" y="2360.90" width="1.00" height="1.80" fill="#4a4a66" />
<rect x="330.00" y="2360.90" width="1.00" height="1.80" fill="#44405e" />
<rect x="331.00" y="2360.90" width="1.00" height="1.80" fill="#5a5470" />
<rect x="332.00" y="2360.90" width="1.00" height="1.80" fill="#4a4a66" />
<rect x="333.00" y="2360.90" width="1.00" height="1.80" fill="#3c3c58" />
<rect x="334.00" y="2360.90" width="1.00" height="1.80" fill="#5a5470" />
<rect x="335.00" y="2360.90" width="1.00" height="1.80" fill="#5a5470" />
<rect x="336.00" y="2360.90" width="1.00" height="1.80" fill="#6e6a84" />
<rect x="337.00" y="2360.90" width="1.00" height="1.80" fill="#6e6a84" />
<rect x="338.00" y="2360.90" width="1.00" height="1.80" fill="#4a4a66" />
<rect x="339.00" y="2360.90" width="1.00" height="1.80" fill="#3c3c58" />
<rect x="340.00" y="2360.90" width="1.00" height="1.80" fill="#5a5470" />
<rect x="341.00" y="2360.90" width="1.00" height="1.80" fill="#5a5470" />
<rect x="342.00" y="2360.90" width="1.00" height="1.80" fill="#3c3c58" />
<rect x="343.00" y="2360.90" width="1.00" height="1.80" fill="#6e6a84" />
<rect x="344.00" y="2360.90" width="1.00" height="1.80" fill="#44405e" />
<rect x="345.00" y="2360.90" width="1.00" height="1.80" fill="#4a4a66" />
<rect x="346.00" y="2360.90" width="1.00" height="1.80" fill="#5a5470" />
<rect x="347.00" y="2360.90" width="1.00" height="1.80" fill="#6e6a84" />
<rect x="348.00" y="2360.90" width="1.00" height="1.80" fill="#6e6a84" />
<rect x="349.00" y="2360.90" width="1.00" height="1.80" fill="#6e6a84" />
<rect x="350.00" y="2360.90" width="1.00" height="1.80" fill="#5a5470" />
<rect x="351.00" y="2360.90" width="1.00" height="1.80" fill="#3c3c58" />
<rect x="352.00" y="2360.90" width="1.00" height="1.80" fill="#6e6a84" />
<rect x="353.00" y="2360.90" width="1.00" height="1.80" fill="#5a5470" />
<rect x="354.00" y="2360.90" width="1.00" height="1.80" fill="#5a5470" />
<rect x="355.00" y="2360.90" width="1.00" height="1.80" fill="#44405e" />
<rect x="356.00" y="2360.90" width="1.00" height="1.80" fill="#3c3c58" />
<rect x="357.00" y="2360.90" width="1.00" height="1.80" fill="#4a4a66" />
<rect x="358.00" y="2360.90" width="1.00" height="1.80" fill="#5a5470" />
<rect x="359.00" y="2360.90" width="1.00" height="1.80" fill="#5a5470" />
<rect x="360.00" y="2360.90" width="1.00" height="1.80" fill="#6e6a84" />
<rect x="361.00" y="2360.90" width="1.00" height="1.80" fill="#44405e" />
<rect x="362.00" y="2360.90" width="1.00" height="1.80" fill="#4a4a66" />
<rect x="363.00" y="2360.90" width="1.00" height="1.80" fill="#5a5470" />
<rect x="364.00" y="2360.90" width="1.00" height="1.80" fill="#44405e" />
<rect x="365.00" y="2360.90" width="1.00" height="1.80" fill="#6e6a84" />
<rect x="366.00" y="2360.90" width="1.00" height="1.80" fill="#5a5470" />
<rect x="367.00" y="2360.90" width="1.00" height="1.80" fill="#3c3c58" />
<rect x="368.00" y="2360.90" width="1.00" height="1.80" fill="#4a4a66" />
<rect x="369.00" y="2360.90" width="1.00" height="1.80" fill="#44405e" />
<rect x="370.00" y="2360.90" width="1.00" height="1.80" fill="#3c3c58" />
<rect x="371.00" y="2360.90" width="1.00" height="1.80" fill="#5a5470" />
<rect x="372.00" y="2360.90" width="1.00" height="1.80" fill="#3c3c58" />
<rect x="373.00" y="2360.90" width="1.00" height="1.80" fill="#4a4a66" />
<rect x="374.00" y="2360.90" width="1.00" height="1.80" fill="#3c3c58" />
<rect x="375.00" y="2360.90" width="1.00" height="1.80" fill="#5a5470" />
<rect x="376.00" y="2360.90" width="1.00" height="1.80" fill="#6e6a84" />
<rect x="377.00" y="2360.90" width="1.00" height="1.80" fill="#5a5470" />
<rect x="378.00" y="2360.90" width="1.00" height="1.80" fill="#3c3c58" />
<rect x="379.00" y="2360.90" width="1.00" height="1.80" fill="#44405e" />
<rect x="380.00" y="2360.90" width="1.00" height="1.80" fill="#5a5470" />
<rect x="381.00" y="2360.90" width="1.00" height="1.80" fill="#4a4a66" />
<rect x="382.00" y="2360.90" width="1.00" height="1.80" fill="#6e6a84" />
<rect x="383.00" y="2360.90" width="1.00" height="1.80" fill="#6e6a84" />
<rect x="384.00" y="2360.90" width="1.00" height="1.80" fill="#4a4a66" />
<rect x="385.00" y="2360.90" width="1.00" height="1.80" fill="#3c3c58" />
<rect x="386.00" y="2360.90" width="1.00" height="1.80" fill="#3c3c58" />
<rect x="387.00" y="2360.90" width="1.00" height="1.80" fill="#44405e" />
<rect x="388.00" y="2360.90" width="1.00" height="1.80" fill="#6e6a84" />
<rect x="389.00" y="2360.90" width="1.00" height="1.80" fill="#5a5470" />
<rect x="390.00" y="2360.90" width="1.00" height="1.80" fill="#4a4a66" />
<rect x="391.00" y="2360.90" width="1.00" height="1.80" fill="#44405e" />
<rect x="392.00" y="2360.90" width="1.00" height="1.80" fill="#3c3c58" />
<rect x="393.00" y="2360.90" width="1.00" height="1.80" fill="#3c3c58" />
<rect x="394.00" y="2360.90" width="1.00" height="1.80" fill="#4a4a66" />
<rect x="395.00" y="2360.90" width="1.00" height="1.80" fill="#5a5470" />
<rect x="396.00" y="2360.90" width="1.00" height="1.80" fill="#5a5470" />
<rect x="397.00" y="2360.90" width="1.00" height="1.80" fill="#6e6a84" />
<rect x="398.00" y="2360.90" width="1.00" height="1.80" fill="#4a4a66" />
<rect x="399.00" y="2360.90" width="1.00" height="1.80" fill="#6e6a84" />
<rect x="400.00" y="2360.90" width="1.00" height="1.80" fill="#6e6a84" />
<rect x="401.00" y="2360.90" width="1.00" height="1.80" fill="#5a5470" />
<rect x="402.00" y="2360.90" width="1.00" height="1.80" fill="#44405e" />
<rect x="403.00" y="2360.90" width="1.00" height="1.80" fill="#3c3c58" />
<rect x="404.00" y="2360.90" width="1.00" height="1.80" fill="#5a5470" />
<rect x="405.00" y="2360.90" width="1.00" height="1.80" fill="#44405e" />
<rect x="406.00" y="2360.90" width="1.00" height="1.80" fill="#4a4a66" />
<rect x="407.00" y="2360.90" width="1.00" height="1.80" fill="#4a4a66" />
<rect x="408.00" y="2360.90" width="1.00" height="1.80" fill="#44405e" />
<rect x="409.00" y="2360.90" width="1.00" height="1.80" fill="#3c3c58" />
<rect x="410.00" y="2360.90" width="1.00" height="1.80" fill="#5a5470" />
<rect x="411.00" y="2360.90" width="1.00" height="1.80" fill="#44405e" />
<rect x="412.00" y="2360.90" width="1.00" height="1.80" fill="#5a5470" />
<rect x="413.00" y="2360.90" width="1.00" height="1.80" fill="#5a5470" />
<rect x="414.00" y="2360.90" width="1.00" height="1.80" fill="#44405e" />
<rect x="415.00" y="2360.90" width="1.00" height="1.80" fill="#44405e" />
<rect x="416.00" y="2360.90" width="1.00" height="1.80" fill="#4a4a66" />
<rect x="417.00" y="2360.90" width="1.00" height="1.80" fill="#4a4a66" />
<rect x="418.00" y="2360.90" width="1.00" height="1.80" fill="#6e6a84" />
<rect x="419.00" y="2360.90" width="1.00" height="1.80" fill="#5a5470" />
<rect x="420.00" y="2360.90" width="1.00" height="1.80" fill="#44405e" />
<rect x="421.00" y="2360.90" width="1.00" height="1.80" fill="#6e6a84" />
<rect x="422.00" y="2360.90" width="1.00" height="1.80" fill="#4a4a66" />
<rect x="423.00" y="2360.90" width="1.00" height="1.80" fill="#5a5470" />
<rect x="424.00" y="2360.90" width="1.00" height="1.80" fill="#3c3c58" />
<rect x="425.00" y="2360.90" width="1.00" height="1.80" fill="#3c3c58" />
<rect x="426.00" y="2360.90" width="1.00" height="1.80" fill="#6e6a84" />
<rect x="427.00" y="2360.90" width="1.00" height="1.80" fill="#5a5470" />
<rect x="428.00" y="2360.90" width="1.00" height="1.80" fill="#5a5470" />
<rect x="429.00" y="2360.90" width="1.00" height="1.80" fill="#4a4a66" />
<rect x="430.00" y="2360.90" width="1.00" height="1.80" fill="#6e6a84" />
<rect x="431.00" y="2360.90" width="1.00" height="1.80" fill="#6e6a84" />
<rect x="432.00" y="2360.90" width="1.00" height="1.80" fill="#3c3c58" />
<rect x="433.00" y="2360.90" width="1.00" height="1.80" fill="#5a5470" />
<rect x="434.00" y="2360.90" width="1.00" height="1.80" fill="#44405e" />
<rect x="435.00" y="2360.90" width="1.00" height="1.80" fill="#44405e" />
<rect x="436.00" y="2360.90" width="1.00" height="1.80" fill="#5a5470" />
<rect x="437.00" y="2360.90" width="1.00" height="1.80" fill="#3c3c58" />
<rect x="438.00" y="2360.90" width="1.00" height="1.80" fill="#5a5470" />
<rect x="439.00" y="2360.90" width="1.00" height="1.80" fill="#4a4a66" />
<rect x="440.00" y="2360.90" width="1.00" height="1.80" fill="#6e6a84" />
<rect x="441.00" y="2360.90" width="1.00" height="1.80" fill="#5a5470" />
<rect x="442.00" y="2360.90" width="1.00" height="1.80" fill="#5a5470" />
<rect x="443.00" y="2360.90" width="1.00" height="1.80" fill="#6e6a84" />
<rect x="444.00" y="2360.90" width="1.00" height="1.80" fill="#44405e" />
<rect x="445.00" y="2360.90" width="1.00" height="1.80" fill="#44405e" />
<rect x="446.00" y="2360.90" width="1.00" height="1.80" fill="#4a4a66" />
<rect x="447.00" y="2360.90" width="1.00" height="1.80" fill="#44405e" />
<rect x="448.00" y="2360.90" width="1.00" height="1.80" fill="#5a5470" />
<rect x="449.00" y="2360.90" width="1.00" height="1.80" fill="#3c3c58" />
<rect x="450.00" y="2360.90" width="1.00" height="1.80" fill="#44405e" />
<rect x="451.00" y="2360.90" width="1.00" height="1.80" fill="#5a5470" />
<rect x="452.00" y="2360.90" width="1.00" height="1.80" fill="#5a5470" />
<rect x="453.00" y="2360.90" width="1.00" height="1.80" fill="#44405e" />
<rect x="454.00" y="2360.90" width="1.00" height="1.80" fill="#4a4a66" />
<rect x="455.00" y="2360.90" width="1.00" height="1.80" fill="#4a4a66" />
<rect x="456.00" y="2360.90" width="1.00" height="1.80" fill="#3c3c58" />
<rect x="457.00" y="2360.90" width="1.00" height="1.80" fill="#44405e" />
<rect x="458.00" y="2360.90" width="1.00" height="1.80" fill="#6e6a84" />
<rect x="459.00" y="2360.90" width="1.00" height="1.80" fill="#4a4a66" />
<rect x="460.00" y="2360.90" width="1.00" height="1.80" fill="#44405e" />
<rect x="461.00" y="2360.90" width="1.00" height="1.80" fill="#5a5470" />
<rect x="462.00" y="2360.90" width="1.00" height="1.80" fill="#4a4a66" />
<rect x="463.00" y="2360.90" width="1.00" height="1.80" fill="#5a5470" />
<rect x="464.00" y="2360.90" width="1.00" height="1.80" fill="#4a4a66" />
<rect x="465.00" y="2360.90" width="1.00" height="1.80" fill="#3c3c58" />
<rect x="466.00" y="2360.90" width="1.00" height="1.80" fill="#6e6a84" />
<rect x="467.00" y="2360.90" width="1.00" height="1.80" fill="#4a4a66" />
<rect x="468.00" y="2360.90" width="1.00" height="1.80" fill="#5a5470" />
<rect x="469.00" y="2360.90" width="1.00" height="1.80" fill="#5a5470" />
<rect x="470.00" y="2360.90" width="1.00" height="1.80" fill="#4a4a66" />
<rect x="471.00" y="2360.90" width="1.00" height="1.80" fill="#5a5470" />
<rect x="472.00" y="2360.90" width="1.00" height="1.80" fill="#5a5470" />
<rect x="473.00" y="2360.90" width="1.00" height="1.80" fill="#5a5470" />
<rect x="474.00" y="2360.90" width="1.00" height="1.80" fill="#44405e" />
<rect x="475.00" y="2360.90" width="1.00" height="1.80" fill="#5a5470" />
<rect x="476.00" y="2360.90" width="1.00" height="1.80" fill="#5a5470" />
<rect x="477.00" y="2360.90" width="1.00" height="1.80" fill="#44405e" />
<rect x="478.00" y="2360.90" width="1.00" height="1.80" fill="#4a4a66" />
<rect x="479.00" y="2360.90" width="1.00" height="1.80" fill="#3c3c58" />
<rect x="480.00" y="2360.90" width="1.00" height="1.80" fill="#5a5470" />
<rect x="481.00" y="2360.90" width="1.00" height="1.80" fill="#5a5470" />
<rect x="482.00" y="2360.90" width="1.00" height="1.80" fill="#6e6a84" />
<rect x="483.00" y="2360.90" width="1.00" height="1.80" fill="#44405e" />
<rect x="484.00" y="2360.90" width="1.00" height="1.80" fill="#6e6a84" />
<rect x="485.00" y="2360.90" width="1.00" height="1.80" fill="#6e6a84" />
<rect x="486.00" y="2360.90" width="1.00" height="1.80" fill="#4a4a66" />
<rect x="487.00" y="2360.90" width="1.00" height="1.80" fill="#4a4a66" />
<rect x="488.00" y="2360.90" width="1.00" height="1.80" fill="#6e6a84" />
<rect x="489.00" y="2360.90" width="1.00" height="1.80" fill="#6e6a84" />
<rect x="490.00" y="2360.90" width="1.00" height="1.80" fill="#4a4a66" />
<rect x="491.00" y="2360.90" width="1.00" height="1.80" fill="#4a4a66" />
<rect x="492.00" y="2360.90" width="1.00" height="1.80" fill="#3c3c58" />
<rect x="493.00" y="2360.90" width="1.00" height="1.80" fill="#5a5470" />
<rect x="309.00" y="2361.20" width="10.00" height="1.20" fill="#c8c8d0" />
<rect x="513.20" y="1983.90" width="16.80" height="21.78" fill="#a4162b" />
<rect x="513.20" y="2004.68" width="16.80" height="21.78" fill="#d42d2a" />
<rect x="513.20" y="2025.47" width="16.80" height="21.78" fill="#ea5e3e" />
<rect x="513.20" y="2046.25" width="16.80" height="21.78" fill="#ec955a" />
<rect x="513.20" y="2067.03" width="16.80" height="21.78" fill="#ebc67d" />
<rect x="513.20" y="2087.82" width="16.80" height="21.78" fill="#f1f1a5" />
<rect x="513.20" y="2108.60" width="16.80" height="21.78" fill="#eff9dd" />
<rect x="513.20" y="2129.38" width="16.80" height="21.78" fill="#d2ecf0" />
<rect x="513.20" y="2150.17" width="16.80" height="21.78" fill="#a5d3e3" />
<rect x="513.20" y="2170.95" width="16.80" height="21.78" fill="#74a7cb" />
<rect x="513.20" y="2191.73" width="16.80" height="21.78" fill="#5073b0" />
<rect x="513.20" y="2212.52" width="16.80" height="20.78" fill="#34389a" />
<text x="533.00" y="1990.20" font-size="16.6" font-weight="normal" text-anchor="start" fill="#000" >1</text>
<text x="533.00" y="2040.12" font-size="16.6" font-weight="normal" text-anchor="start" fill="#000" >0.8</text>
<text x="533.00" y="2090.04" font-size="16.6" font-weight="normal" text-anchor="start" fill="#000" >0.6</text>
<text x="533.00" y="2139.96" font-size="16.6" font-weight="normal" text-anchor="start" fill="#000" >0.4</text>
<text x="533.00" y="2189.88" font-size="16.6" font-weight="normal" text-anchor="start" fill="#000" >0.2</text>
<text x="533.00" y="2239.80" font-size="16.6" font-weight="normal" text-anchor="start" fill="#000" >0</text>
<text x="595.70" y="1996.30" font-size="16.5" font-weight="bold" text-anchor="start" fill="#000" >basis</text>
<rect x="595.30" y="2003.00" width="12.70" height="12.00" fill="#9f9efb" />
<text x="611.00" y="2015.40" font-size="16.5" font-weight="normal" text-anchor="start" fill="#000" >1</text>
<rect x="595.30" y="2021.20" width="12.70" height="12.00" fill="#f57ff9" />
<text x="611.00" y="2033.60" font-size="16.5" font-weight="normal" text-anchor="start" fill="#000" >2</text>
<text x="595.70" y="2071.30" font-size="16.5" font-weight="bold" text-anchor="start" fill="#000" >consensus</text>
<rect x="595.30" y="2077.30" width="12.70" height="12.00" fill="#62b9fb" />
<text x="611.00" y="2089.60" font-size="16.5" font-weight="normal" text-anchor="start" fill="#000" >1</text>
<rect x="595.30" y="2095.50" width="12.70" height="12.00" fill="#d28bf8" />
<text x="611.00" y="2107.60" font-size="16.5" font-weight="normal" text-anchor="start" fill="#000" >2</text>
<text x="595.70" y="2145.90" font-size="16.5" font-weight="bold" text-anchor="start" fill="#000" >silhouette</text>
<defs><linearGradient id="sil" x1="0" y1="0" x2="0" y2="1"><stop offset="0" stop-color="#3d9a6e"/><stop offset="1" stop-color="#eef3f1"/></linearGradient></defs>
<rect x="595.30" y="2151.10" width="12.70" height="49.90" fill="url(#sil)" />
<text x="611.00" y="2164.00" font-size="16.5" font-weight="normal" text-anchor="start" fill="#000" >1</text>
<text x="611.00" y="2200.60" font-size="16.5" font-weight="normal" text-anchor="start" fill="#000" >0</text>
</svg>
</body></html>
